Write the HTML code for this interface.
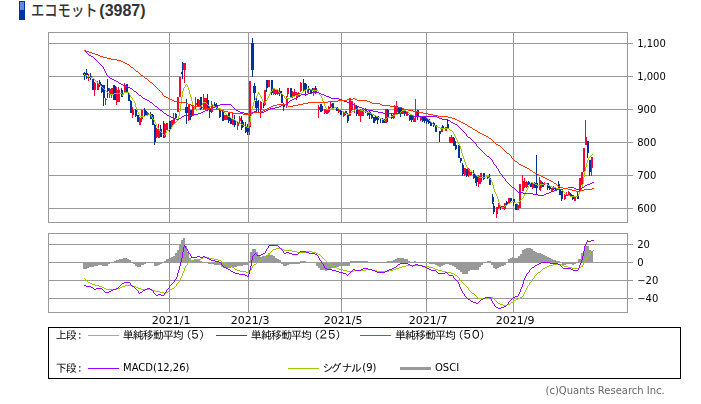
<!DOCTYPE html>
<html lang="ja"><head><meta charset="utf-8"><title>エコモット(3987)</title>
<style>
html,body{margin:0;padding:0;background:#fff;}
body{width:701px;height:404px;overflow:hidden;position:relative;}
svg{position:absolute;left:0;top:24px;display:block;will-change:transform;}
#ttl{position:absolute;left:0;top:0;width:701px;height:24px;overflow:hidden;}
#ttl svg{top:0;will-change:auto;}
.ax{font-family:"DejaVu Sans","Liberation Sans",sans-serif;font-size:10px;fill:#000;}
.lg{font-family:"DejaVu Sans","IPAGothic","Noto Sans CJK JP",sans-serif;font-size:10px;fill:#000;}
.jp{font-family:"IPAGothic","Noto Sans CJK JP",sans-serif;font-size:11px;fill:#000;}
.jd{font-family:"IPAGothic","Noto Sans CJK JP",sans-serif;font-size:12px;fill:#000;}
.cp{font-family:"DejaVu Sans","Liberation Sans",sans-serif;font-size:10px;fill:#666;}
.tj{font-family:"Liberation Sans","Noto Sans CJK JP",sans-serif;font-size:15.5px;font-weight:500;fill:#333;}
.tn{font-family:"Liberation Sans",sans-serif;font-size:16px;font-weight:bold;fill:#333;}
.g{stroke:#999999;stroke-width:1;fill:none;shape-rendering:crispEdges;}
.l{fill:none;stroke-width:1;stroke-linejoin:round;stroke-linecap:butt;shape-rendering:crispEdges;}
</style></head><body>
<div id="ttl"><svg width="701" height="24" viewBox="0 0 701 24">
<rect x="19" y="1" width="6" height="19" fill="#0033aa"/>
<rect x="20" y="2" width="4" height="8" fill="#6688dd"/>
<text class="tj" x="31" y="15.8" textLength="66.5" lengthAdjust="spacingAndGlyphs">エコモット</text>
<text class="tn" x="99.3" y="16">(3987)</text>
</svg></div>
<svg width="701" height="380" viewBox="0 24 701 380">
<rect x="0" y="24" width="701" height="380" fill="#ffffff"/>
<g class="g">
<line x1="48" y1="43.5" x2="633" y2="43.5"/>
<line x1="48" y1="76.5" x2="633" y2="76.5"/>
<line x1="48" y1="109.5" x2="633" y2="109.5"/>
<line x1="48" y1="142.5" x2="633" y2="142.5"/>
<line x1="48" y1="175.5" x2="633" y2="175.5"/>
<line x1="48" y1="208.5" x2="633" y2="208.5"/>
<line x1="169.5" y1="32" x2="169.5" y2="223"/>
<line x1="169.5" y1="233" x2="169.5" y2="313"/>
<line x1="248.5" y1="32" x2="248.5" y2="223"/>
<line x1="248.5" y1="233" x2="248.5" y2="313"/>
<line x1="341.5" y1="32" x2="341.5" y2="223"/>
<line x1="341.5" y1="233" x2="341.5" y2="313"/>
<line x1="426.5" y1="32" x2="426.5" y2="223"/>
<line x1="426.5" y1="233" x2="426.5" y2="313"/>
<line x1="513.5" y1="32" x2="513.5" y2="223"/>
<line x1="513.5" y1="233" x2="513.5" y2="313"/>
<line x1="48" y1="244.5" x2="633" y2="244.5"/>
<line x1="48" y1="262.5" x2="633" y2="262.5"/>
<line x1="48" y1="280.5" x2="633" y2="280.5"/>
<line x1="48" y1="298.5" x2="633" y2="298.5"/>
<rect x="48.5" y="32.5" width="579" height="190"/>
<rect x="48.5" y="233.5" width="579" height="79"/>
</g>
<g shape-rendering="crispEdges">
<rect x="84" y="71.5" width="1" height="8.5" fill="#003399"/>
<rect x="83" y="73" width="3" height="2" fill="#003399"/>
<rect x="86" y="69" width="1" height="10" fill="#003399"/>
<rect x="85" y="73" width="3" height="2" fill="#003399"/>
<rect x="88" y="74" width="1" height="7" fill="#ff0033"/>
<rect x="87" y="76" width="3" height="1.5" fill="#ff0033"/>
<rect x="90" y="73" width="1" height="7" fill="#003399"/>
<rect x="89" y="76" width="3" height="2" fill="#003399"/>
<rect x="92" y="79" width="1" height="11" fill="#003399"/>
<rect x="92" y="79" width="2" height="11" fill="#003399"/>
<rect x="94" y="82" width="1" height="14" fill="#ff0033"/>
<rect x="94" y="82.5" width="2" height="7.5" fill="#ff0033"/>
<rect x="97" y="81" width="1" height="9" fill="#ff0033"/>
<rect x="97" y="83" width="2" height="6.5" fill="#ff0033"/>
<rect x="99" y="80" width="1" height="7" fill="#003399"/>
<rect x="99" y="82" width="2" height="4" fill="#003399"/>
<rect x="101" y="84" width="1" height="9" fill="#003399"/>
<rect x="101" y="85" width="2" height="7" fill="#003399"/>
<rect x="103" y="85" width="1" height="20.5" fill="#003399"/>
<rect x="103" y="85" width="2" height="13" fill="#003399"/>
<rect x="105" y="98" width="1" height="7" fill="#ff0033"/>
<rect x="105" y="98.5" width="2" height="1.5" fill="#ff0033"/>
<rect x="107" y="79" width="1" height="19" fill="#003399"/>
<rect x="107" y="88" width="2" height="3" fill="#003399"/>
<rect x="109" y="88" width="1" height="10" fill="#ff0033"/>
<rect x="109" y="89" width="2" height="5" fill="#ff0033"/>
<rect x="111" y="88" width="1" height="9.5" fill="#ff0033"/>
<rect x="111" y="88" width="2" height="5.5" fill="#ff0033"/>
<rect x="113" y="85" width="1" height="15" fill="#003399"/>
<rect x="113" y="85" width="2" height="15" fill="#003399"/>
<rect x="115" y="86" width="1" height="14" fill="#003399"/>
<rect x="115" y="87" width="2" height="12" fill="#003399"/>
<rect x="116" y="87" width="1" height="17.5" fill="#ff0033"/>
<rect x="116" y="90" width="2" height="12" fill="#ff0033"/>
<rect x="118" y="87" width="1" height="15" fill="#ff0033"/>
<rect x="118" y="90" width="2" height="12" fill="#ff0033"/>
<rect x="121" y="88" width="1" height="9" fill="#003399"/>
<rect x="121" y="90" width="2" height="6.5" fill="#003399"/>
<rect x="124" y="83" width="1" height="9" fill="#ff0033"/>
<rect x="124" y="85" width="2" height="7" fill="#ff0033"/>
<rect x="126" y="84" width="1" height="9" fill="#003399"/>
<rect x="126" y="84" width="2" height="8.5" fill="#003399"/>
<rect x="128" y="92" width="1" height="8.5" fill="#003399"/>
<rect x="128" y="92.5" width="2" height="8" fill="#003399"/>
<rect x="130" y="100" width="1" height="12.5" fill="#003399"/>
<rect x="130" y="100.5" width="2" height="12" fill="#003399"/>
<rect x="132" y="106.5" width="1" height="11" fill="#ff0033"/>
<rect x="132" y="109.5" width="2" height="5" fill="#ff0033"/>
<rect x="135" y="109" width="1" height="7.5" fill="#003399"/>
<rect x="135" y="109.5" width="2" height="6.5" fill="#003399"/>
<rect x="137" y="114.5" width="1" height="7.5" fill="#003399"/>
<rect x="137" y="115" width="2" height="7" fill="#003399"/>
<rect x="139" y="117" width="1" height="8" fill="#ff0033"/>
<rect x="139" y="117.5" width="2" height="7" fill="#ff0033"/>
<rect x="141" y="109.5" width="1" height="12" fill="#ff0033"/>
<rect x="141" y="109.5" width="2" height="9.5" fill="#ff0033"/>
<rect x="144" y="108" width="1" height="8" fill="#003399"/>
<rect x="144" y="109.5" width="2" height="6" fill="#003399"/>
<rect x="145" y="110" width="1" height="5.5" fill="#003399"/>
<rect x="145" y="110.5" width="2" height="4.5" fill="#003399"/>
<rect x="147" y="112" width="1" height="3.5" fill="#ff0033"/>
<rect x="147" y="112.5" width="2" height="2.5" fill="#ff0033"/>
<rect x="150" y="112" width="1" height="7" fill="#003399"/>
<rect x="150" y="114" width="2" height="4.5" fill="#003399"/>
<rect x="152" y="114" width="1" height="10.5" fill="#003399"/>
<rect x="152" y="114.5" width="2" height="10" fill="#003399"/>
<rect x="154" y="124" width="1" height="21" fill="#003399"/>
<rect x="154" y="124.5" width="2" height="17.5" fill="#003399"/>
<rect x="156" y="128" width="1" height="10" fill="#ff0033"/>
<rect x="156" y="129" width="2" height="8" fill="#ff0033"/>
<rect x="158" y="124" width="1" height="14" fill="#ff0033"/>
<rect x="158" y="129.5" width="2" height="8" fill="#ff0033"/>
<rect x="160" y="125" width="1" height="12" fill="#003399"/>
<rect x="160" y="128.5" width="2" height="8" fill="#003399"/>
<rect x="163" y="121" width="1" height="16.5" fill="#003399"/>
<rect x="163" y="128" width="2" height="9" fill="#003399"/>
<rect x="164" y="123" width="1" height="14.5" fill="#ff0033"/>
<rect x="164" y="123.5" width="2" height="13.5" fill="#ff0033"/>
<rect x="166" y="122.5" width="1" height="7.5" fill="#ff0033"/>
<rect x="166" y="123" width="2" height="6.5" fill="#ff0033"/>
<rect x="169" y="120.5" width="1" height="11.5" fill="#003399"/>
<rect x="169" y="121" width="2" height="8.5" fill="#003399"/>
<rect x="171" y="119.5" width="1" height="7" fill="#ff0033"/>
<rect x="171" y="120" width="2" height="6" fill="#ff0033"/>
<rect x="173" y="113" width="1" height="10.5" fill="#ff0033"/>
<rect x="173" y="118" width="2" height="5" fill="#ff0033"/>
<rect x="175" y="113" width="1" height="5.5" fill="#003399"/>
<rect x="175" y="113.5" width="2" height="4.5" fill="#003399"/>
<rect x="177" y="97" width="1" height="15" fill="#ff0033"/>
<rect x="177" y="97" width="2" height="15" fill="#ff0033"/>
<rect x="179" y="77" width="1" height="20" fill="#ff0033"/>
<rect x="179" y="77" width="2" height="20" fill="#ff0033"/>
<rect x="182" y="62" width="1" height="17" fill="#003399"/>
<rect x="181" y="72" width="2" height="2" fill="#003399"/>
<rect x="184" y="63" width="1" height="20" fill="#ff0033"/>
<rect x="183" y="63" width="3" height="6.5" fill="#ff0033"/>
<rect x="186" y="99" width="1" height="25" fill="#003399"/>
<rect x="185" y="107" width="3" height="6" fill="#003399"/>
<rect x="188" y="104" width="1" height="16.5" fill="#ff0033"/>
<rect x="188" y="104.5" width="2" height="15.5" fill="#ff0033"/>
<rect x="190" y="109.5" width="1" height="10.5" fill="#003399"/>
<rect x="190" y="110" width="2" height="7" fill="#003399"/>
<rect x="192" y="105" width="1" height="11" fill="#ff0033"/>
<rect x="192" y="105.5" width="2" height="10" fill="#ff0033"/>
<rect x="195" y="97" width="1" height="13" fill="#ff0033"/>
<rect x="195" y="103" width="2" height="2" fill="#ff0033"/>
<rect x="197" y="98.5" width="1" height="8" fill="#003399"/>
<rect x="197" y="99" width="2" height="7" fill="#003399"/>
<rect x="198" y="99" width="1" height="7" fill="#ff0033"/>
<rect x="198" y="99.5" width="2" height="6" fill="#ff0033"/>
<rect x="200" y="96.5" width="1" height="13" fill="#003399"/>
<rect x="200" y="97" width="2" height="12" fill="#003399"/>
<rect x="203" y="94" width="1" height="15.5" fill="#ff0033"/>
<rect x="203" y="98" width="2" height="11" fill="#ff0033"/>
<rect x="205" y="97.5" width="1" height="12" fill="#ff0033"/>
<rect x="205" y="98" width="2" height="11" fill="#ff0033"/>
<rect x="207" y="94" width="1" height="16.5" fill="#003399"/>
<rect x="207" y="99.5" width="2" height="10.5" fill="#003399"/>
<rect x="209" y="107" width="1" height="11" fill="#003399"/>
<rect x="209" y="109" width="2" height="3" fill="#003399"/>
<rect x="211" y="101" width="1" height="11.5" fill="#ff0033"/>
<rect x="211" y="104" width="2" height="8" fill="#ff0033"/>
<rect x="214" y="102" width="1" height="6" fill="#003399"/>
<rect x="214" y="104" width="2" height="3" fill="#003399"/>
<rect x="216" y="103" width="1" height="6" fill="#003399"/>
<rect x="216" y="105" width="2" height="3.5" fill="#003399"/>
<rect x="219" y="108" width="1" height="9.5" fill="#003399"/>
<rect x="219" y="110" width="2" height="7" fill="#003399"/>
<rect x="222" y="110.5" width="1" height="10.5" fill="#003399"/>
<rect x="222" y="111" width="2" height="9.5" fill="#003399"/>
<rect x="224" y="114.5" width="1" height="5.5" fill="#ff0033"/>
<rect x="224" y="115" width="2" height="4.5" fill="#ff0033"/>
<rect x="226" y="114.5" width="1" height="5.5" fill="#ff0033"/>
<rect x="226" y="115" width="2" height="4.5" fill="#ff0033"/>
<rect x="228" y="112" width="1" height="11" fill="#003399"/>
<rect x="228" y="113" width="2" height="8" fill="#003399"/>
<rect x="230" y="117.5" width="1" height="6.5" fill="#003399"/>
<rect x="230" y="118" width="2" height="5.5" fill="#003399"/>
<rect x="232" y="113" width="1" height="12" fill="#ff0033"/>
<rect x="232" y="119" width="2" height="5.5" fill="#ff0033"/>
<rect x="234" y="115" width="1" height="12" fill="#003399"/>
<rect x="234" y="120" width="2" height="5" fill="#003399"/>
<rect x="237" y="121.5" width="1" height="8.5" fill="#ff0033"/>
<rect x="237" y="122" width="2" height="4" fill="#ff0033"/>
<rect x="239" y="115.5" width="1" height="7.5" fill="#ff0033"/>
<rect x="239" y="118" width="2" height="3" fill="#ff0033"/>
<rect x="241" y="116" width="1" height="14" fill="#003399"/>
<rect x="241" y="120" width="2" height="4" fill="#003399"/>
<rect x="242" y="121" width="1" height="6.5" fill="#003399"/>
<rect x="242" y="121.5" width="2" height="5.5" fill="#003399"/>
<rect x="245" y="122" width="1" height="11" fill="#003399"/>
<rect x="245" y="126.5" width="2" height="5.5" fill="#003399"/>
<rect x="247" y="124" width="1" height="11" fill="#003399"/>
<rect x="247" y="126.5" width="2" height="5.5" fill="#003399"/>
<rect x="249" y="81" width="1" height="54" fill="#ff0033"/>
<rect x="249" y="81" width="2" height="46" fill="#ff0033"/>
<rect x="252" y="38" width="1" height="39" fill="#003399"/>
<rect x="251" y="43" width="3" height="26.5" fill="#003399"/>
<rect x="254" y="83" width="1" height="17" fill="#003399"/>
<rect x="253" y="86" width="3" height="6.5" fill="#003399"/>
<rect x="256" y="97" width="1" height="14.5" fill="#003399"/>
<rect x="255" y="100.5" width="3" height="7.5" fill="#003399"/>
<rect x="258" y="100" width="1" height="11.5" fill="#003399"/>
<rect x="258" y="101" width="1" height="6" fill="#003399"/>
<rect x="260" y="101" width="1" height="17" fill="#ff0033"/>
<rect x="260" y="101.5" width="2" height="8.5" fill="#ff0033"/>
<rect x="263" y="102" width="1" height="5.5" fill="#003399"/>
<rect x="263" y="103" width="2" height="3" fill="#003399"/>
<rect x="264" y="90" width="1" height="16" fill="#ff0033"/>
<rect x="264" y="90" width="2" height="14.5" fill="#ff0033"/>
<rect x="266" y="80" width="1" height="11.5" fill="#003399"/>
<rect x="266" y="80" width="2" height="8" fill="#003399"/>
<rect x="268" y="80" width="1" height="7" fill="#ff0033"/>
<rect x="268" y="80" width="2" height="6.5" fill="#ff0033"/>
<rect x="271" y="80" width="1" height="14.5" fill="#003399"/>
<rect x="271" y="80" width="2" height="12.5" fill="#003399"/>
<rect x="273" y="88.5" width="1" height="6.5" fill="#ff0033"/>
<rect x="273" y="89" width="2" height="5" fill="#ff0033"/>
<rect x="275" y="89" width="1" height="6" fill="#ff0033"/>
<rect x="275" y="89.5" width="2" height="4" fill="#ff0033"/>
<rect x="277" y="89" width="1" height="6" fill="#ff0033"/>
<rect x="277" y="89.5" width="2" height="4" fill="#ff0033"/>
<rect x="279" y="88" width="1" height="8" fill="#003399"/>
<rect x="279" y="91" width="2" height="2" fill="#003399"/>
<rect x="281" y="91" width="1" height="12" fill="#003399"/>
<rect x="281" y="94" width="2" height="9" fill="#003399"/>
<rect x="283" y="103" width="1" height="8" fill="#003399"/>
<rect x="283" y="104" width="2" height="3" fill="#003399"/>
<rect x="286" y="96" width="1" height="12" fill="#ff0033"/>
<rect x="286" y="99" width="2" height="6" fill="#ff0033"/>
<rect x="287" y="88" width="1" height="9" fill="#ff0033"/>
<rect x="287" y="88" width="2" height="5.5" fill="#ff0033"/>
<rect x="290" y="88" width="1" height="9.5" fill="#003399"/>
<rect x="290" y="88" width="2" height="9" fill="#003399"/>
<rect x="292" y="91" width="1" height="6.5" fill="#ff0033"/>
<rect x="292" y="92" width="2" height="5" fill="#ff0033"/>
<rect x="294" y="89" width="1" height="8" fill="#ff0033"/>
<rect x="294" y="92" width="2" height="4" fill="#ff0033"/>
<rect x="296" y="92" width="1" height="7.5" fill="#ff0033"/>
<rect x="296" y="92.5" width="2" height="4" fill="#ff0033"/>
<rect x="298" y="92" width="1" height="5" fill="#ff0033"/>
<rect x="298" y="92.5" width="2" height="4" fill="#ff0033"/>
<rect x="300" y="82" width="1" height="9.5" fill="#ff0033"/>
<rect x="300" y="82.5" width="2" height="8.5" fill="#ff0033"/>
<rect x="303" y="79" width="1" height="11.5" fill="#003399"/>
<rect x="303" y="83" width="2" height="7" fill="#003399"/>
<rect x="305" y="83" width="1" height="13" fill="#003399"/>
<rect x="305" y="84" width="2" height="6" fill="#003399"/>
<rect x="307" y="88.5" width="1" height="4.5" fill="#ff0033"/>
<rect x="307" y="89" width="2" height="3.5" fill="#ff0033"/>
<rect x="308" y="86" width="1" height="5" fill="#003399"/>
<rect x="308" y="88" width="2" height="2" fill="#003399"/>
<rect x="310" y="88.5" width="1" height="5" fill="#003399"/>
<rect x="310" y="89" width="2" height="4" fill="#003399"/>
<rect x="312" y="87.5" width="1" height="3.5" fill="#003399"/>
<rect x="312" y="88" width="2" height="2.5" fill="#003399"/>
<rect x="313" y="87.5" width="1" height="8.5" fill="#ff0033"/>
<rect x="313" y="88" width="2" height="3.5" fill="#ff0033"/>
<rect x="315" y="86" width="1" height="7.5" fill="#003399"/>
<rect x="315" y="87.5" width="2" height="5.5" fill="#003399"/>
<rect x="318" y="105" width="1" height="13" fill="#ff0033"/>
<rect x="318" y="107" width="2" height="3" fill="#ff0033"/>
<rect x="320" y="104" width="1" height="7.5" fill="#003399"/>
<rect x="320" y="105.5" width="2" height="5.5" fill="#003399"/>
<rect x="321" y="104" width="1" height="7.5" fill="#003399"/>
<rect x="321" y="105.5" width="2" height="5.5" fill="#003399"/>
<rect x="324" y="108.5" width="1" height="5.5" fill="#ff0033"/>
<rect x="324" y="109" width="2" height="4" fill="#ff0033"/>
<rect x="326" y="109.5" width="1" height="4.5" fill="#ff0033"/>
<rect x="326" y="110" width="2" height="3.5" fill="#ff0033"/>
<rect x="328" y="106" width="1" height="6.5" fill="#ff0033"/>
<rect x="328" y="106.5" width="2" height="5.5" fill="#ff0033"/>
<rect x="330" y="102" width="1" height="6" fill="#ff0033"/>
<rect x="330" y="104" width="2" height="3" fill="#ff0033"/>
<rect x="332" y="102.5" width="1" height="6" fill="#003399"/>
<rect x="332" y="103" width="2" height="5" fill="#003399"/>
<rect x="336" y="106.5" width="1" height="4.5" fill="#003399"/>
<rect x="336" y="107" width="2" height="3.5" fill="#003399"/>
<rect x="338" y="108.5" width="1" height="4" fill="#ff0033"/>
<rect x="338" y="109" width="2" height="3" fill="#ff0033"/>
<rect x="340" y="109" width="1" height="6" fill="#003399"/>
<rect x="340" y="109.5" width="2" height="5" fill="#003399"/>
<rect x="343" y="111.5" width="1" height="5" fill="#ff0033"/>
<rect x="343" y="112" width="2" height="4" fill="#ff0033"/>
<rect x="345" y="110.5" width="1" height="4" fill="#003399"/>
<rect x="345" y="111" width="2" height="3" fill="#003399"/>
<rect x="347" y="113" width="1" height="10" fill="#003399"/>
<rect x="347" y="114.5" width="2" height="6.5" fill="#003399"/>
<rect x="349" y="98" width="1" height="18" fill="#ff0033"/>
<rect x="349" y="98" width="2" height="18" fill="#ff0033"/>
<rect x="351" y="100.5" width="1" height="10" fill="#ff0033"/>
<rect x="351" y="101" width="2" height="9" fill="#ff0033"/>
<rect x="354" y="103" width="1" height="10" fill="#ff0033"/>
<rect x="354" y="106" width="2" height="4" fill="#ff0033"/>
<rect x="356" y="105" width="1" height="11" fill="#003399"/>
<rect x="356" y="105.5" width="2" height="8.5" fill="#003399"/>
<rect x="358" y="109" width="1" height="7" fill="#ff0033"/>
<rect x="358" y="109.5" width="2" height="6" fill="#ff0033"/>
<rect x="360" y="109" width="1" height="13" fill="#ff0033"/>
<rect x="360" y="109.5" width="2" height="6" fill="#ff0033"/>
<rect x="362" y="109" width="1" height="7" fill="#ff0033"/>
<rect x="362" y="109.5" width="2" height="6" fill="#ff0033"/>
<rect x="365" y="108" width="1" height="4.5" fill="#003399"/>
<rect x="365" y="108.5" width="2" height="3.5" fill="#003399"/>
<rect x="367" y="111" width="1" height="4.5" fill="#003399"/>
<rect x="367" y="111.5" width="2" height="3.5" fill="#003399"/>
<rect x="369" y="111" width="1" height="8" fill="#003399"/>
<rect x="369" y="111.5" width="2" height="3.5" fill="#003399"/>
<rect x="371" y="113" width="1" height="5.5" fill="#003399"/>
<rect x="371" y="113.5" width="2" height="4.5" fill="#003399"/>
<rect x="373" y="116.5" width="1" height="6.5" fill="#003399"/>
<rect x="373" y="117" width="2" height="6" fill="#003399"/>
<rect x="375" y="115.5" width="1" height="5" fill="#003399"/>
<rect x="375" y="116" width="2" height="4" fill="#003399"/>
<rect x="377" y="115.5" width="1" height="8" fill="#003399"/>
<rect x="377" y="116" width="2" height="4" fill="#003399"/>
<rect x="380" y="117.5" width="1" height="5.5" fill="#003399"/>
<rect x="380" y="118.5" width="1" height="3.5" fill="#003399"/>
<rect x="382" y="117.5" width="1" height="5.5" fill="#003399"/>
<rect x="382" y="118.5" width="1" height="3.5" fill="#003399"/>
<rect x="383" y="118.5" width="1" height="4.5" fill="#003399"/>
<rect x="383" y="119" width="2" height="3.5" fill="#003399"/>
<rect x="385" y="108.5" width="1" height="14.5" fill="#ff0033"/>
<rect x="385" y="109" width="2" height="13.5" fill="#ff0033"/>
<rect x="387" y="109" width="1" height="13" fill="#003399"/>
<rect x="387" y="109.5" width="2" height="8.5" fill="#003399"/>
<rect x="391" y="114" width="1" height="4.5" fill="#003399"/>
<rect x="391" y="114.5" width="2" height="3.5" fill="#003399"/>
<rect x="393" y="113" width="1" height="5.5" fill="#ff0033"/>
<rect x="393" y="113.5" width="2" height="4.5" fill="#ff0033"/>
<rect x="394" y="105" width="1" height="9.5" fill="#ff0033"/>
<rect x="394" y="105.5" width="2" height="8.5" fill="#ff0033"/>
<rect x="396" y="101" width="1" height="12" fill="#ff0033"/>
<rect x="396" y="106" width="2" height="6" fill="#ff0033"/>
<rect x="398" y="107" width="1" height="6" fill="#003399"/>
<rect x="398" y="107.5" width="2" height="5" fill="#003399"/>
<rect x="400" y="107" width="1" height="10" fill="#003399"/>
<rect x="400" y="107.5" width="2" height="5" fill="#003399"/>
<rect x="402" y="108" width="1" height="5.5" fill="#ff0033"/>
<rect x="402" y="108.5" width="2" height="4.5" fill="#ff0033"/>
<rect x="404" y="108.5" width="1" height="7.5" fill="#003399"/>
<rect x="404" y="110" width="2" height="3.5" fill="#003399"/>
<rect x="406" y="111.5" width="1" height="4.5" fill="#ff0033"/>
<rect x="406" y="112" width="2" height="3.5" fill="#ff0033"/>
<rect x="409" y="115" width="1" height="5.5" fill="#003399"/>
<rect x="409" y="115.5" width="2" height="4" fill="#003399"/>
<rect x="411" y="115" width="1" height="7" fill="#003399"/>
<rect x="411" y="115.5" width="2" height="4" fill="#003399"/>
<rect x="413" y="117" width="1" height="5" fill="#ff0033"/>
<rect x="413" y="117.5" width="2" height="4" fill="#ff0033"/>
<rect x="415" y="99" width="1" height="22.5" fill="#ff0033"/>
<rect x="415" y="111" width="2" height="6" fill="#ff0033"/>
<rect x="417" y="109.5" width="1" height="10.5" fill="#003399"/>
<rect x="417" y="110" width="2" height="6.5" fill="#003399"/>
<rect x="420" y="115.5" width="1" height="5" fill="#ff0033"/>
<rect x="420" y="116" width="2" height="4" fill="#ff0033"/>
<rect x="422" y="116.5" width="1" height="5.5" fill="#003399"/>
<rect x="422" y="117" width="2" height="3.5" fill="#003399"/>
<rect x="424" y="116.5" width="1" height="6" fill="#003399"/>
<rect x="424" y="117" width="2" height="4" fill="#003399"/>
<rect x="426" y="117" width="1" height="7" fill="#003399"/>
<rect x="426" y="118" width="2" height="4" fill="#003399"/>
<rect x="428" y="118.5" width="1" height="5.5" fill="#003399"/>
<rect x="428" y="119" width="2" height="4" fill="#003399"/>
<rect x="430" y="121.5" width="1" height="4.5" fill="#003399"/>
<rect x="430" y="122" width="2" height="3.5" fill="#003399"/>
<rect x="433" y="122" width="1" height="4.5" fill="#003399"/>
<rect x="433" y="122.5" width="2" height="3.5" fill="#003399"/>
<rect x="435" y="124.5" width="1" height="7.5" fill="#003399"/>
<rect x="435" y="125" width="2" height="6.5" fill="#003399"/>
<rect x="439" y="130.5" width="1" height="11.5" fill="#003399"/>
<rect x="439" y="131" width="2" height="2.5" fill="#003399"/>
<rect x="441" y="127" width="1" height="5" fill="#ff0033"/>
<rect x="441" y="127.5" width="2" height="4" fill="#ff0033"/>
<rect x="442" y="125" width="1" height="3.5" fill="#003399"/>
<rect x="442" y="125.5" width="2" height="2.5" fill="#003399"/>
<rect x="445" y="126.5" width="1" height="4.5" fill="#ff0033"/>
<rect x="445" y="127" width="2" height="3.5" fill="#ff0033"/>
<rect x="447" y="119.5" width="1" height="8.5" fill="#003399"/>
<rect x="447" y="124" width="2" height="3.5" fill="#003399"/>
<rect x="449" y="136.5" width="1" height="6.5" fill="#ff0033"/>
<rect x="449" y="137" width="2" height="5.5" fill="#ff0033"/>
<rect x="451" y="135" width="1" height="8" fill="#ff0033"/>
<rect x="451" y="137" width="2" height="5.5" fill="#ff0033"/>
<rect x="453" y="137" width="1" height="9" fill="#003399"/>
<rect x="453" y="137.5" width="2" height="8" fill="#003399"/>
<rect x="455" y="141" width="1" height="8.5" fill="#003399"/>
<rect x="455" y="145" width="2" height="4" fill="#003399"/>
<rect x="458" y="145" width="1" height="13" fill="#003399"/>
<rect x="458" y="145.5" width="2" height="12.5" fill="#003399"/>
<rect x="460" y="157.5" width="1" height="5.5" fill="#003399"/>
<rect x="460" y="158" width="2" height="3" fill="#003399"/>
<rect x="462" y="163" width="1" height="13" fill="#003399"/>
<rect x="462" y="165" width="2" height="9" fill="#003399"/>
<rect x="464" y="167.5" width="1" height="8" fill="#ff0033"/>
<rect x="464" y="168" width="2" height="7" fill="#ff0033"/>
<rect x="466" y="168.5" width="1" height="8" fill="#003399"/>
<rect x="466" y="169" width="2" height="7" fill="#003399"/>
<rect x="468" y="168" width="1" height="9" fill="#ff0033"/>
<rect x="468" y="168.5" width="2" height="6.5" fill="#ff0033"/>
<rect x="470" y="171.5" width="1" height="4" fill="#ff0033"/>
<rect x="470" y="172" width="2" height="3" fill="#ff0033"/>
<rect x="473" y="170" width="1" height="8.5" fill="#003399"/>
<rect x="473" y="173" width="2" height="5" fill="#003399"/>
<rect x="475" y="175" width="1" height="7.5" fill="#003399"/>
<rect x="475" y="175.5" width="2" height="6.5" fill="#003399"/>
<rect x="476" y="175" width="1" height="11" fill="#003399"/>
<rect x="476" y="175.5" width="2" height="6.5" fill="#003399"/>
<rect x="478" y="175" width="1" height="12" fill="#ff0033"/>
<rect x="478" y="175.5" width="2" height="8.5" fill="#ff0033"/>
<rect x="480" y="173" width="1" height="11" fill="#ff0033"/>
<rect x="480" y="173" width="2" height="9" fill="#ff0033"/>
<rect x="483" y="172.5" width="1" height="7" fill="#003399"/>
<rect x="483" y="173" width="2" height="6" fill="#003399"/>
<rect x="487" y="175.5" width="1" height="3" fill="#003399"/>
<rect x="487" y="176" width="2" height="2" fill="#003399"/>
<rect x="489" y="174" width="1" height="11" fill="#003399"/>
<rect x="489" y="178" width="2" height="7" fill="#003399"/>
<rect x="492" y="194" width="1" height="10" fill="#003399"/>
<rect x="492" y="197" width="2" height="5" fill="#003399"/>
<rect x="493" y="202.5" width="1" height="11.5" fill="#003399"/>
<rect x="493" y="206" width="2" height="6" fill="#003399"/>
<rect x="496" y="206.5" width="1" height="11.5" fill="#ff0033"/>
<rect x="496" y="207" width="2" height="7" fill="#ff0033"/>
<rect x="498" y="203" width="1" height="5.5" fill="#ff0033"/>
<rect x="498" y="203.5" width="2" height="4.5" fill="#ff0033"/>
<rect x="500" y="205" width="1" height="5" fill="#003399"/>
<rect x="500" y="205.5" width="2" height="3.5" fill="#003399"/>
<rect x="502" y="205.5" width="1" height="3.5" fill="#ff0033"/>
<rect x="502" y="206" width="2" height="2.5" fill="#ff0033"/>
<rect x="504" y="202.5" width="1" height="7.5" fill="#ff0033"/>
<rect x="504" y="203" width="2" height="5.5" fill="#ff0033"/>
<rect x="506" y="201" width="1" height="4" fill="#003399"/>
<rect x="506" y="201.5" width="2" height="3" fill="#003399"/>
<rect x="508" y="197.5" width="1" height="6" fill="#ff0033"/>
<rect x="508" y="198" width="2" height="5" fill="#ff0033"/>
<rect x="510" y="197.5" width="1" height="4" fill="#003399"/>
<rect x="510" y="198" width="2" height="3" fill="#003399"/>
<rect x="513" y="198.5" width="1" height="7.5" fill="#003399"/>
<rect x="513" y="199" width="2" height="4" fill="#003399"/>
<rect x="515" y="203.5" width="1" height="6.5" fill="#003399"/>
<rect x="515" y="204" width="2" height="5.5" fill="#003399"/>
<rect x="517" y="204" width="1" height="6" fill="#ff0033"/>
<rect x="517" y="204.5" width="2" height="5" fill="#ff0033"/>
<rect x="519" y="184" width="1" height="24" fill="#ff0033"/>
<rect x="519" y="184" width="2" height="24" fill="#ff0033"/>
<rect x="522" y="175" width="1" height="16" fill="#ff0033"/>
<rect x="522" y="181" width="2" height="10" fill="#ff0033"/>
<rect x="524" y="178" width="1" height="9.5" fill="#ff0033"/>
<rect x="524" y="181.5" width="2" height="5.5" fill="#ff0033"/>
<rect x="526" y="181" width="1" height="6.5" fill="#ff0033"/>
<rect x="526" y="181.5" width="2" height="5.5" fill="#ff0033"/>
<rect x="528" y="181" width="1" height="4" fill="#003399"/>
<rect x="528" y="181.5" width="2" height="3" fill="#003399"/>
<rect x="530" y="182.5" width="1" height="4.5" fill="#003399"/>
<rect x="530" y="183" width="2" height="3.5" fill="#003399"/>
<rect x="532" y="183" width="1" height="5.5" fill="#ff0033"/>
<rect x="532" y="183.5" width="2" height="4.5" fill="#ff0033"/>
<rect x="534" y="182" width="1" height="6" fill="#003399"/>
<rect x="534" y="182.5" width="2" height="5" fill="#003399"/>
<rect x="536" y="155" width="1" height="39.5" fill="#003399"/>
<rect x="536" y="182.5" width="2" height="5" fill="#003399"/>
<rect x="539" y="177" width="1" height="12.5" fill="#ff0033"/>
<rect x="539" y="180.5" width="2" height="7.5" fill="#ff0033"/>
<rect x="540" y="180" width="1" height="11" fill="#ff0033"/>
<rect x="540" y="180.5" width="2" height="7.5" fill="#ff0033"/>
<rect x="542" y="182" width="1" height="5" fill="#003399"/>
<rect x="542" y="182.5" width="2" height="4" fill="#003399"/>
<rect x="544" y="182" width="1" height="2.5" fill="#ff0033"/>
<rect x="544" y="182.5" width="2" height="1.5" fill="#ff0033"/>
<rect x="547" y="182.5" width="1" height="7" fill="#003399"/>
<rect x="547" y="183" width="2" height="5" fill="#003399"/>
<rect x="549" y="186" width="1" height="3.5" fill="#003399"/>
<rect x="549" y="186.5" width="2" height="2.5" fill="#003399"/>
<rect x="551" y="187.5" width="1" height="3.5" fill="#ff0033"/>
<rect x="551" y="188" width="2" height="2.5" fill="#ff0033"/>
<rect x="553" y="185.5" width="1" height="4" fill="#003399"/>
<rect x="553" y="187" width="2" height="2" fill="#003399"/>
<rect x="555" y="187" width="1" height="4" fill="#003399"/>
<rect x="555" y="187.5" width="2" height="3" fill="#003399"/>
<rect x="558" y="181" width="1" height="8" fill="#003399"/>
<rect x="558" y="184" width="2" height="4.5" fill="#003399"/>
<rect x="559" y="189" width="1" height="6" fill="#003399"/>
<rect x="559" y="189.5" width="2" height="5" fill="#003399"/>
<rect x="561" y="190.5" width="1" height="10.5" fill="#003399"/>
<rect x="561" y="191" width="2" height="8" fill="#003399"/>
<rect x="564" y="194" width="1" height="5.5" fill="#ff0033"/>
<rect x="564" y="194.5" width="2" height="4.5" fill="#ff0033"/>
<rect x="566" y="192" width="1" height="4" fill="#ff0033"/>
<rect x="566" y="194" width="2" height="1.5" fill="#ff0033"/>
<rect x="568" y="191" width="1" height="4.5" fill="#ff0033"/>
<rect x="568" y="191.5" width="2" height="3.5" fill="#ff0033"/>
<rect x="570" y="193" width="1" height="3.5" fill="#003399"/>
<rect x="570" y="193.5" width="2" height="2.5" fill="#003399"/>
<rect x="572" y="194.5" width="1" height="5" fill="#003399"/>
<rect x="572" y="195" width="2" height="4" fill="#003399"/>
<rect x="574" y="196.5" width="1" height="4.5" fill="#ff0033"/>
<rect x="574" y="197" width="2" height="3.5" fill="#ff0033"/>
<rect x="577" y="192" width="1" height="7" fill="#003399"/>
<rect x="577" y="194.5" width="2" height="4" fill="#003399"/>
<rect x="579" y="178" width="1" height="14" fill="#ff0033"/>
<rect x="579" y="178" width="2" height="13.5" fill="#ff0033"/>
<rect x="581" y="172" width="1" height="13" fill="#ff0033"/>
<rect x="581" y="172" width="2" height="13" fill="#ff0033"/>
<rect x="583" y="148" width="1" height="24" fill="#ff0033"/>
<rect x="583" y="148" width="2" height="24" fill="#ff0033"/>
<rect x="585" y="120" width="1" height="25" fill="#ff0033"/>
<rect x="585" y="137" width="2" height="8" fill="#ff0033"/>
<rect x="587" y="141" width="1" height="17" fill="#003399"/>
<rect x="587" y="141" width="2" height="12" fill="#003399"/>
<rect x="589" y="160" width="1" height="15.5" fill="#003399"/>
<rect x="589" y="160" width="2" height="12" fill="#003399"/>
<rect x="591" y="157" width="1" height="18.5" fill="#ff0033"/>
<rect x="591" y="157" width="2" height="11" fill="#ff0033"/>
</g>
<path fill="#99cc00" shape-rendering="crispEdges" d="M84 74h1v1h-1zM85 75h2v1h-2zM87 76h3v1h-3zM90 77h3v1h-3zM93 78h1v1h-1zM94 79h1v1h-1zM95 80h1v1h-1zM96 81h1v1h-1zM97 82h1v1h-1zM98 83h1v1h-1zM99 84h1v1h-1zM186 84h1v1h-1zM100 85h1v1h-1zM185 85h1v1h-1zM187 85h1v1h-1zM101 86h1v1h-1zM185 86h1v1h-1zM187 86h1v1h-1zM102 87h1v1h-1zM184 87h1v1h-1zM188 87h1v1h-1zM103 88h1v1h-1zM183 88h1v1h-1zM188 88h1v1h-1zM273 88h2v1h-2zM308 88h2v1h-2zM104 89h1v1h-1zM183 89h1v1h-1zM188 89h1v1h-1zM272 89h1v1h-1zM275 89h3v1h-3zM306 89h2v1h-2zM310 89h2v1h-2zM105 90h1v1h-1zM183 90h1v1h-1zM189 90h1v1h-1zM272 90h1v1h-1zM278 90h1v1h-1zM304 90h2v1h-2zM312 90h6v1h-6zM106 91h1v1h-1zM182 91h1v1h-1zM189 91h1v1h-1zM271 91h1v1h-1zM278 91h1v1h-1zM303 91h1v1h-1zM318 91h1v1h-1zM107 92h1v1h-1zM124 92h5v1h-5zM182 92h1v1h-1zM189 92h1v1h-1zM258 92h1v1h-1zM270 92h1v1h-1zM279 92h1v1h-1zM302 92h1v1h-1zM318 92h1v1h-1zM108 93h2v1h-2zM114 93h8v1h-8zM123 93h1v1h-1zM129 93h1v1h-1zM182 93h1v1h-1zM189 93h1v1h-1zM258 93h2v1h-2zM270 93h1v1h-1zM280 93h2v1h-2zM300 93h2v1h-2zM319 93h1v1h-1zM110 94h4v1h-4zM122 94h2v1h-2zM129 94h1v1h-1zM182 94h1v1h-1zM190 94h1v1h-1zM257 94h1v1h-1zM259 94h1v1h-1zM269 94h1v1h-1zM282 94h1v1h-1zM298 94h2v1h-2zM319 94h1v1h-1zM122 95h1v1h-1zM130 95h1v1h-1zM182 95h1v1h-1zM190 95h1v1h-1zM257 95h1v1h-1zM260 95h1v1h-1zM269 95h1v1h-1zM283 95h1v1h-1zM295 95h3v1h-3zM320 95h1v1h-1zM130 96h1v1h-1zM182 96h1v1h-1zM190 96h1v1h-1zM256 96h1v1h-1zM260 96h1v1h-1zM268 96h1v1h-1zM284 96h1v1h-1zM292 96h3v1h-3zM321 96h1v1h-1zM131 97h1v1h-1zM181 97h1v1h-1zM191 97h1v1h-1zM256 97h1v1h-1zM261 97h1v1h-1zM268 97h1v1h-1zM284 97h1v1h-1zM290 97h2v1h-2zM321 97h1v1h-1zM132 98h1v1h-1zM181 98h1v1h-1zM191 98h1v1h-1zM255 98h1v1h-1zM261 98h1v1h-1zM267 98h1v1h-1zM285 98h5v1h-5zM322 98h1v1h-1zM132 99h1v1h-1zM181 99h1v1h-1zM191 99h1v1h-1zM255 99h1v1h-1zM262 99h1v1h-1zM267 99h1v1h-1zM322 99h1v1h-1zM133 100h1v1h-1zM181 100h1v1h-1zM191 100h1v1h-1zM254 100h1v1h-1zM262 100h1v1h-1zM266 100h1v1h-1zM322 100h1v1h-1zM134 101h1v1h-1zM181 101h1v1h-1zM192 101h1v1h-1zM254 101h1v1h-1zM263 101h1v1h-1zM265 101h1v1h-1zM323 101h1v1h-1zM134 102h1v1h-1zM181 102h1v1h-1zM192 102h1v1h-1zM203 102h3v1h-3zM253 102h1v1h-1zM263 102h1v1h-1zM265 102h1v1h-1zM323 102h1v1h-1zM135 103h1v1h-1zM181 103h1v1h-1zM192 103h1v1h-1zM202 103h1v1h-1zM206 103h1v1h-1zM253 103h1v1h-1zM264 103h1v1h-1zM324 103h1v1h-1zM135 104h1v1h-1zM180 104h1v1h-1zM192 104h1v1h-1zM202 104h1v1h-1zM207 104h1v1h-1zM212 104h1v1h-1zM253 104h1v1h-1zM324 104h1v1h-1zM135 105h1v1h-1zM180 105h1v1h-1zM193 105h1v1h-1zM201 105h1v1h-1zM208 105h1v1h-1zM211 105h1v1h-1zM213 105h1v1h-1zM253 105h1v1h-1zM324 105h1v1h-1zM135 106h1v1h-1zM180 106h1v1h-1zM193 106h1v1h-1zM200 106h1v1h-1zM209 106h2v1h-2zM214 106h1v1h-1zM252 106h1v1h-1zM325 106h1v1h-1zM136 107h1v1h-1zM180 107h1v1h-1zM194 107h1v1h-1zM200 107h1v1h-1zM215 107h2v1h-2zM252 107h1v1h-1zM325 107h1v1h-1zM334 107h3v1h-3zM136 108h1v1h-1zM180 108h1v1h-1zM194 108h1v1h-1zM199 108h1v1h-1zM217 108h4v1h-4zM252 108h1v1h-1zM326 108h1v1h-1zM331 108h3v1h-3zM337 108h2v1h-2zM357 108h1v1h-1zM136 109h1v1h-1zM180 109h1v1h-1zM195 109h1v1h-1zM197 109h2v1h-2zM221 109h1v1h-1zM252 109h1v1h-1zM326 109h5v1h-5zM339 109h2v1h-2zM355 109h2v1h-2zM358 109h2v1h-2zM137 110h1v1h-1zM180 110h1v1h-1zM196 110h1v1h-1zM222 110h1v1h-1zM251 110h1v1h-1zM341 110h1v1h-1zM354 110h1v1h-1zM360 110h3v1h-3zM402 110h4v1h-4zM137 111h1v1h-1zM179 111h1v1h-1zM223 111h1v1h-1zM251 111h1v1h-1zM342 111h2v1h-2zM352 111h2v1h-2zM363 111h4v1h-4zM401 111h1v1h-1zM406 111h2v1h-2zM138 112h1v1h-1zM179 112h1v1h-1zM224 112h1v1h-1zM251 112h1v1h-1zM344 112h1v1h-1zM351 112h1v1h-1zM367 112h3v1h-3zM400 112h1v1h-1zM408 112h1v1h-1zM138 113h1v1h-1zM179 113h1v1h-1zM225 113h1v1h-1zM251 113h1v1h-1zM345 113h2v1h-2zM349 113h2v1h-2zM370 113h2v1h-2zM398 113h2v1h-2zM409 113h1v1h-1zM139 114h1v1h-1zM148 114h3v1h-3zM179 114h1v1h-1zM226 114h1v1h-1zM251 114h1v1h-1zM347 114h2v1h-2zM372 114h2v1h-2zM395 114h3v1h-3zM410 114h2v1h-2zM139 115h1v1h-1zM145 115h3v1h-3zM151 115h1v1h-1zM179 115h1v1h-1zM227 115h1v1h-1zM251 115h1v1h-1zM374 115h2v1h-2zM393 115h2v1h-2zM412 115h2v1h-2zM140 116h5v1h-5zM151 116h1v1h-1zM178 116h1v1h-1zM228 116h2v1h-2zM250 116h1v1h-1zM376 116h2v1h-2zM391 116h2v1h-2zM414 116h12v1h-12zM152 117h1v1h-1zM178 117h1v1h-1zM230 117h1v1h-1zM250 117h1v1h-1zM378 117h2v1h-2zM387 117h4v1h-4zM426 117h1v1h-1zM152 118h1v1h-1zM178 118h1v1h-1zM231 118h2v1h-2zM250 118h1v1h-1zM380 118h2v1h-2zM386 118h1v1h-1zM427 118h1v1h-1zM153 119h1v1h-1zM177 119h1v1h-1zM233 119h2v1h-2zM250 119h1v1h-1zM382 119h2v1h-2zM385 119h1v1h-1zM428 119h1v1h-1zM154 120h1v1h-1zM177 120h1v1h-1zM235 120h1v1h-1zM250 120h1v1h-1zM384 120h1v1h-1zM429 120h1v1h-1zM154 121h1v1h-1zM176 121h1v1h-1zM236 121h2v1h-2zM250 121h1v1h-1zM430 121h1v1h-1zM155 122h1v1h-1zM175 122h1v1h-1zM238 122h1v1h-1zM249 122h1v1h-1zM431 122h1v1h-1zM155 123h1v1h-1zM174 123h1v1h-1zM239 123h2v1h-2zM249 123h1v1h-1zM432 123h1v1h-1zM156 124h1v1h-1zM173 124h1v1h-1zM241 124h2v1h-2zM249 124h1v1h-1zM433 124h1v1h-1zM156 125h1v1h-1zM172 125h1v1h-1zM243 125h2v1h-2zM249 125h1v1h-1zM434 125h2v1h-2zM157 126h1v1h-1zM172 126h1v1h-1zM245 126h2v1h-2zM248 126h1v1h-1zM436 126h2v1h-2zM157 127h1v1h-1zM171 127h1v1h-1zM247 127h2v1h-2zM438 127h2v1h-2zM158 128h1v1h-1zM171 128h1v1h-1zM440 128h9v1h-9zM159 129h1v1h-1zM169 129h2v1h-2zM449 129h1v1h-1zM159 130h1v1h-1zM167 130h2v1h-2zM450 130h2v1h-2zM160 131h1v1h-1zM166 131h1v1h-1zM452 131h1v1h-1zM161 132h1v1h-1zM166 132h1v1h-1zM453 132h1v1h-1zM162 133h1v1h-1zM165 133h1v1h-1zM453 133h1v1h-1zM163 134h1v1h-1zM165 134h1v1h-1zM454 134h1v1h-1zM164 135h1v1h-1zM454 135h1v1h-1zM455 136h1v1h-1zM455 137h1v1h-1zM456 138h1v1h-1zM456 139h1v1h-1zM457 140h1v1h-1zM457 141h1v1h-1zM458 142h1v1h-1zM458 143h1v1h-1zM459 144h1v1h-1zM459 145h1v1h-1zM460 146h1v1h-1zM460 147h1v1h-1zM460 148h1v1h-1zM461 149h1v1h-1zM461 150h1v1h-1zM461 151h1v1h-1zM461 152h1v1h-1zM462 153h1v1h-1zM462 154h1v1h-1zM592 154h1v1h-1zM462 155h1v1h-1zM591 155h1v1h-1zM463 156h1v1h-1zM590 156h1v1h-1zM463 157h1v1h-1zM589 157h1v1h-1zM463 158h1v1h-1zM588 158h1v1h-1zM464 159h1v1h-1zM588 159h1v1h-1zM464 160h1v1h-1zM587 160h1v1h-1zM464 161h1v1h-1zM587 161h1v1h-1zM465 162h1v1h-1zM587 162h1v1h-1zM465 163h1v1h-1zM586 163h1v1h-1zM465 164h1v1h-1zM586 164h1v1h-1zM466 165h1v1h-1zM586 165h1v1h-1zM466 166h1v1h-1zM586 166h1v1h-1zM467 167h1v1h-1zM585 167h1v1h-1zM467 168h1v1h-1zM585 168h1v1h-1zM468 169h1v1h-1zM585 169h1v1h-1zM469 170h2v1h-2zM585 170h1v1h-1zM471 171h1v1h-1zM584 171h1v1h-1zM472 172h1v1h-1zM584 172h1v1h-1zM473 173h2v1h-2zM584 173h1v1h-1zM475 174h1v1h-1zM584 174h1v1h-1zM476 175h1v1h-1zM584 175h1v1h-1zM477 176h2v1h-2zM486 176h3v1h-3zM584 176h1v1h-1zM479 177h7v1h-7zM489 177h1v1h-1zM583 177h1v1h-1zM489 178h1v1h-1zM583 178h1v1h-1zM490 179h1v1h-1zM583 179h1v1h-1zM491 180h1v1h-1zM583 180h1v1h-1zM491 181h1v1h-1zM583 181h1v1h-1zM492 182h1v1h-1zM531 182h2v1h-2zM583 182h1v1h-1zM492 183h1v1h-1zM530 183h1v1h-1zM533 183h2v1h-2zM544 183h3v1h-3zM583 183h1v1h-1zM492 184h1v1h-1zM529 184h1v1h-1zM535 184h2v1h-2zM540 184h4v1h-4zM547 184h1v1h-1zM582 184h1v1h-1zM493 185h1v1h-1zM529 185h1v1h-1zM537 185h3v1h-3zM548 185h2v1h-2zM582 185h1v1h-1zM493 186h1v1h-1zM528 186h1v1h-1zM550 186h2v1h-2zM582 186h1v1h-1zM493 187h1v1h-1zM528 187h1v1h-1zM552 187h4v1h-4zM582 187h1v1h-1zM493 188h1v1h-1zM527 188h1v1h-1zM556 188h4v1h-4zM581 188h1v1h-1zM494 189h1v1h-1zM527 189h1v1h-1zM560 189h2v1h-2zM581 189h1v1h-1zM494 190h1v1h-1zM526 190h1v1h-1zM562 190h1v1h-1zM580 190h1v1h-1zM494 191h1v1h-1zM526 191h1v1h-1zM563 191h1v1h-1zM580 191h1v1h-1zM495 192h1v1h-1zM525 192h1v1h-1zM564 192h1v1h-1zM579 192h1v1h-1zM495 193h1v1h-1zM525 193h1v1h-1zM565 193h2v1h-2zM579 193h1v1h-1zM496 194h1v1h-1zM524 194h1v1h-1zM567 194h1v1h-1zM578 194h1v1h-1zM496 195h1v1h-1zM524 195h1v1h-1zM568 195h2v1h-2zM578 195h1v1h-1zM497 196h1v1h-1zM523 196h1v1h-1zM570 196h8v1h-8zM497 197h1v1h-1zM523 197h1v1h-1zM497 198h1v1h-1zM522 198h1v1h-1zM498 199h1v1h-1zM521 199h1v1h-1zM498 200h1v1h-1zM520 200h1v1h-1zM498 201h1v1h-1zM512 201h2v1h-2zM519 201h1v1h-1zM499 202h1v1h-1zM510 202h2v1h-2zM514 202h2v1h-2zM517 202h2v1h-2zM499 203h1v1h-1zM508 203h2v1h-2zM516 203h1v1h-1zM499 204h1v1h-1zM507 204h1v1h-1zM500 205h1v1h-1zM505 205h2v1h-2zM500 206h1v1h-1zM504 206h1v1h-1zM501 207h3v1h-3zM501 208h1v1h-1z"/>
<path fill="#9900ff" shape-rendering="crispEdges" d="M84 50h1v1h-1zM85 51h1v1h-1zM86 52h1v1h-1zM87 53h1v1h-1zM88 54h1v1h-1zM89 55h2v1h-2zM91 56h2v1h-2zM93 57h1v1h-1zM94 58h1v1h-1zM95 59h1v1h-1zM96 60h1v1h-1zM97 61h1v1h-1zM98 62h1v1h-1zM99 63h1v1h-1zM100 64h1v1h-1zM101 65h1v1h-1zM102 66h1v1h-1zM103 67h1v1h-1zM103 68h1v1h-1zM104 69h1v1h-1zM104 70h1v1h-1zM105 71h1v1h-1zM105 72h1v1h-1zM106 73h1v1h-1zM106 74h1v1h-1zM107 75h1v1h-1zM108 76h1v1h-1zM109 77h1v1h-1zM110 78h2v1h-2zM112 79h2v1h-2zM114 80h2v1h-2zM116 81h2v1h-2zM118 82h1v1h-1zM119 83h2v1h-2zM121 84h2v1h-2zM123 85h2v1h-2zM125 86h3v1h-3zM128 87h2v1h-2zM130 88h2v1h-2zM132 89h1v1h-1zM133 90h1v1h-1zM134 91h2v1h-2zM136 92h1v1h-1zM312 92h7v1h-7zM137 93h1v1h-1zM308 93h4v1h-4zM319 93h2v1h-2zM138 94h1v1h-1zM301 94h7v1h-7zM321 94h3v1h-3zM139 95h2v1h-2zM300 95h1v1h-1zM324 95h2v1h-2zM141 96h1v1h-1zM298 96h2v1h-2zM326 96h3v1h-3zM142 97h1v1h-1zM296 97h2v1h-2zM329 97h2v1h-2zM143 98h2v1h-2zM294 98h2v1h-2zM331 98h8v1h-8zM145 99h2v1h-2zM292 99h2v1h-2zM339 99h3v1h-3zM147 100h2v1h-2zM290 100h2v1h-2zM342 100h2v1h-2zM149 101h1v1h-1zM289 101h1v1h-1zM344 101h3v1h-3zM150 102h2v1h-2zM288 102h1v1h-1zM347 102h2v1h-2zM152 103h1v1h-1zM287 103h1v1h-1zM349 103h3v1h-3zM153 104h1v1h-1zM220 104h11v1h-11zM284 104h3v1h-3zM352 104h2v1h-2zM154 105h1v1h-1zM218 105h2v1h-2zM231 105h1v1h-1zM281 105h3v1h-3zM354 105h3v1h-3zM155 106h2v1h-2zM215 106h3v1h-3zM232 106h1v1h-1zM279 106h2v1h-2zM357 106h2v1h-2zM157 107h1v1h-1zM213 107h2v1h-2zM233 107h1v1h-1zM275 107h4v1h-4zM359 107h3v1h-3zM158 108h1v1h-1zM210 108h3v1h-3zM234 108h1v1h-1zM270 108h5v1h-5zM362 108h2v1h-2zM159 109h1v1h-1zM207 109h3v1h-3zM235 109h1v1h-1zM268 109h2v1h-2zM364 109h4v1h-4zM160 110h2v1h-2zM205 110h2v1h-2zM236 110h2v1h-2zM266 110h2v1h-2zM368 110h5v1h-5zM162 111h1v1h-1zM203 111h2v1h-2zM238 111h2v1h-2zM254 111h3v1h-3zM264 111h2v1h-2zM373 111h5v1h-5zM163 112h1v1h-1zM201 112h2v1h-2zM240 112h4v1h-4zM252 112h2v1h-2zM257 112h7v1h-7zM378 112h5v1h-5zM164 113h2v1h-2zM198 113h3v1h-3zM244 113h4v1h-4zM251 113h1v1h-1zM383 113h24v1h-24zM166 114h1v1h-1zM193 114h5v1h-5zM248 114h3v1h-3zM407 114h2v1h-2zM167 115h2v1h-2zM184 115h9v1h-9zM409 115h4v1h-4zM169 116h2v1h-2zM182 116h2v1h-2zM413 116h24v1h-24zM171 117h2v1h-2zM181 117h1v1h-1zM437 117h2v1h-2zM173 118h3v1h-3zM179 118h2v1h-2zM439 118h3v1h-3zM176 119h3v1h-3zM442 119h6v1h-6zM448 120h2v1h-2zM450 121h1v1h-1zM451 122h2v1h-2zM453 123h2v1h-2zM455 124h2v1h-2zM457 125h1v1h-1zM458 126h1v1h-1zM459 127h1v1h-1zM460 128h1v1h-1zM461 129h1v1h-1zM462 130h1v1h-1zM463 131h1v1h-1zM464 132h1v1h-1zM465 133h1v1h-1zM466 134h1v1h-1zM466 135h1v1h-1zM467 136h1v1h-1zM468 137h2v1h-2zM470 138h1v1h-1zM471 139h1v1h-1zM472 140h1v1h-1zM473 141h1v1h-1zM474 142h1v1h-1zM475 143h1v1h-1zM476 144h1v1h-1zM476 145h1v1h-1zM477 146h1v1h-1zM478 147h1v1h-1zM479 148h1v1h-1zM480 149h1v1h-1zM481 150h1v1h-1zM482 151h1v1h-1zM483 152h1v1h-1zM484 153h1v1h-1zM485 154h1v1h-1zM486 155h1v1h-1zM487 156h2v1h-2zM489 157h1v1h-1zM490 158h1v1h-1zM491 159h1v1h-1zM492 160h1v1h-1zM492 161h1v1h-1zM493 162h1v1h-1zM493 163h1v1h-1zM494 164h1v1h-1zM495 165h1v1h-1zM496 166h1v1h-1zM496 167h1v1h-1zM497 168h1v1h-1zM498 169h1v1h-1zM498 170h1v1h-1zM499 171h1v1h-1zM499 172h1v1h-1zM500 173h1v1h-1zM501 174h1v1h-1zM502 175h1v1h-1zM502 176h1v1h-1zM503 177h1v1h-1zM504 178h1v1h-1zM505 179h1v1h-1zM505 180h1v1h-1zM506 181h1v1h-1zM507 182h1v1h-1zM592 182h2v1h-2zM508 183h1v1h-1zM590 183h2v1h-2zM509 184h1v1h-1zM587 184h3v1h-3zM510 185h1v1h-1zM585 185h2v1h-2zM511 186h1v1h-1zM584 186h1v1h-1zM512 187h2v1h-2zM568 187h6v1h-6zM582 187h2v1h-2zM514 188h1v1h-1zM563 188h5v1h-5zM574 188h2v1h-2zM581 188h1v1h-1zM515 189h1v1h-1zM556 189h7v1h-7zM576 189h5v1h-5zM516 190h1v1h-1zM554 190h2v1h-2zM517 191h1v1h-1zM551 191h3v1h-3zM518 192h5v1h-5zM549 192h2v1h-2zM523 193h10v1h-10zM546 193h3v1h-3zM533 194h5v1h-5zM544 194h2v1h-2zM538 195h6v1h-6z"/>
<path fill="#ff3300" shape-rendering="crispEdges" d="M84 50h2v1h-2zM86 51h3v1h-3zM89 52h3v1h-3zM92 53h3v1h-3zM95 54h3v1h-3zM98 55h2v1h-2zM100 56h3v1h-3zM103 57h4v1h-4zM107 58h4v1h-4zM111 59h6v1h-6zM117 60h4v1h-4zM121 61h2v1h-2zM123 62h2v1h-2zM125 63h2v1h-2zM127 64h2v1h-2zM129 65h1v1h-1zM130 66h1v1h-1zM131 67h2v1h-2zM133 68h1v1h-1zM134 69h1v1h-1zM135 70h1v1h-1zM136 71h2v1h-2zM138 72h1v1h-1zM139 73h1v1h-1zM140 74h1v1h-1zM141 75h2v1h-2zM143 76h1v1h-1zM144 77h1v1h-1zM145 78h2v1h-2zM147 79h1v1h-1zM148 80h1v1h-1zM149 81h1v1h-1zM150 82h2v1h-2zM152 83h1v1h-1zM153 84h1v1h-1zM154 85h1v1h-1zM155 86h1v1h-1zM156 87h1v1h-1zM157 88h1v1h-1zM158 89h1v1h-1zM159 90h1v1h-1zM160 91h1v1h-1zM161 92h1v1h-1zM162 93h1v1h-1zM162 94h1v1h-1zM163 95h1v1h-1zM164 96h2v1h-2zM166 97h2v1h-2zM168 98h2v1h-2zM350 98h1v1h-1zM353 98h2v1h-2zM170 99h2v1h-2zM347 99h3v1h-3zM351 99h2v1h-2zM355 99h2v1h-2zM172 100h2v1h-2zM338 100h9v1h-9zM357 100h10v1h-10zM174 101h4v1h-4zM328 101h10v1h-10zM367 101h3v1h-3zM178 102h8v1h-8zM308 102h20v1h-20zM370 102h2v1h-2zM186 103h2v1h-2zM303 103h5v1h-5zM372 103h8v1h-8zM188 104h3v1h-3zM277 104h9v1h-9zM298 104h5v1h-5zM380 104h2v1h-2zM191 105h3v1h-3zM273 105h4v1h-4zM286 105h2v1h-2zM293 105h5v1h-5zM382 105h8v1h-8zM194 106h8v1h-8zM271 106h2v1h-2zM288 106h5v1h-5zM390 106h4v1h-4zM202 107h2v1h-2zM269 107h2v1h-2zM394 107h8v1h-8zM204 108h8v1h-8zM267 108h2v1h-2zM402 108h2v1h-2zM212 109h8v1h-8zM265 109h2v1h-2zM404 109h4v1h-4zM220 110h4v1h-4zM263 110h2v1h-2zM408 110h5v1h-5zM224 111h4v1h-4zM261 111h2v1h-2zM413 111h5v1h-5zM228 112h5v1h-5zM253 112h8v1h-8zM418 112h5v1h-5zM233 113h10v1h-10zM251 113h2v1h-2zM423 113h5v1h-5zM243 114h8v1h-8zM428 114h5v1h-5zM433 115h5v1h-5zM438 116h10v1h-10zM448 117h4v1h-4zM452 118h3v1h-3zM455 119h2v1h-2zM457 120h2v1h-2zM459 121h2v1h-2zM461 122h2v1h-2zM463 123h2v1h-2zM465 124h2v1h-2zM467 125h1v1h-1zM468 126h2v1h-2zM470 127h2v1h-2zM472 128h1v1h-1zM473 129h2v1h-2zM475 130h2v1h-2zM477 131h1v1h-1zM478 132h2v1h-2zM480 133h2v1h-2zM482 134h2v1h-2zM484 135h2v1h-2zM486 136h2v1h-2zM488 137h1v1h-1zM489 138h2v1h-2zM491 139h1v1h-1zM492 140h1v1h-1zM493 141h1v1h-1zM494 142h1v1h-1zM495 143h1v1h-1zM496 144h2v1h-2zM498 145h2v1h-2zM500 146h1v1h-1zM501 147h1v1h-1zM502 148h1v1h-1zM503 149h1v1h-1zM504 150h1v1h-1zM505 151h1v1h-1zM506 152h1v1h-1zM507 153h2v1h-2zM509 154h1v1h-1zM510 155h1v1h-1zM511 156h1v1h-1zM511 157h1v1h-1zM512 158h1v1h-1zM513 159h1v1h-1zM514 160h1v1h-1zM515 161h2v1h-2zM517 162h1v1h-1zM518 163h1v1h-1zM519 164h2v1h-2zM521 165h2v1h-2zM523 166h2v1h-2zM525 167h2v1h-2zM527 168h2v1h-2zM529 169h1v1h-1zM530 170h2v1h-2zM532 171h1v1h-1zM533 172h2v1h-2zM535 173h2v1h-2zM537 174h2v1h-2zM539 175h2v1h-2zM541 176h2v1h-2zM543 177h2v1h-2zM545 178h2v1h-2zM547 179h2v1h-2zM549 180h2v1h-2zM551 181h2v1h-2zM553 182h1v1h-1zM554 183h2v1h-2zM556 184h1v1h-1zM557 185h1v1h-1zM558 186h2v1h-2zM560 187h3v1h-3zM563 188h5v1h-5zM592 188h2v1h-2zM568 189h4v1h-4zM584 189h8v1h-8zM572 190h4v1h-4zM580 190h4v1h-4zM576 191h4v1h-4z"/>
<g shape-rendering="crispEdges" fill="#999999">
<rect x="83" y="262.5" width="2" height="6.8"/>
<rect x="85" y="262.5" width="2" height="6.1"/>
<rect x="87" y="262.5" width="2" height="5.5"/>
<rect x="89" y="262.5" width="3" height="4.8"/>
<rect x="92" y="262.5" width="2" height="4.2"/>
<rect x="94" y="262.5" width="2" height="3.9"/>
<rect x="96" y="262.5" width="2" height="3.2"/>
<rect x="98" y="262.5" width="2" height="2.6"/>
<rect x="100" y="262.5" width="2" height="2.4"/>
<rect x="102" y="262.5" width="2" height="3.2"/>
<rect x="104" y="262.5" width="2" height="3.7"/>
<rect x="106" y="262.5" width="2" height="3.1"/>
<rect x="108" y="262.5" width="2" height="1.2"/>
<rect x="110" y="261.8" width="2" height="0.7"/>
<rect x="112" y="261.6" width="2" height="0.9"/>
<rect x="114" y="260.6" width="2" height="1.9"/>
<rect x="116" y="259.5" width="3" height="3"/>
<rect x="119" y="258.9" width="2" height="3.6"/>
<rect x="121" y="258.7" width="2" height="3.8"/>
<rect x="123" y="258.4" width="2" height="4.1"/>
<rect x="125" y="258.4" width="2" height="4.1"/>
<rect x="127" y="258.9" width="2" height="3.6"/>
<rect x="129" y="260.1" width="2" height="2.4"/>
<rect x="131" y="262.5" width="2" height="0.8"/>
<rect x="133" y="262.5" width="2" height="1.9"/>
<rect x="135" y="262.5" width="2" height="3.2"/>
<rect x="137" y="262.5" width="2" height="4.4"/>
<rect x="139" y="262.5" width="2" height="4.5"/>
<rect x="141" y="262.5" width="3" height="2.7"/>
<rect x="144" y="262.5" width="2" height="1.7"/>
<rect x="146" y="262.5" width="2" height="0.6"/>
<rect x="148" y="262.1" width="2" height="0.4"/>
<rect x="150" y="261.7" width="2" height="0.8"/>
<rect x="152" y="262.5" width="2" height="0.9"/>
<rect x="154" y="262.5" width="2" height="3.3"/>
<rect x="156" y="262.5" width="2" height="3.9"/>
<rect x="158" y="262.5" width="2" height="2.9"/>
<rect x="160" y="262.5" width="2" height="1.9"/>
<rect x="162" y="262.5" width="2" height="0.4"/>
<rect x="164" y="260.9" width="2" height="1.6"/>
<rect x="166" y="259.4" width="3" height="3.1"/>
<rect x="169" y="257.8" width="2" height="4.7"/>
<rect x="171" y="256.9" width="2" height="5.6"/>
<rect x="173" y="255.8" width="2" height="6.7"/>
<rect x="175" y="253.4" width="2" height="9.1"/>
<rect x="177" y="249.9" width="2" height="12.6"/>
<rect x="179" y="244.3" width="2" height="18.2"/>
<rect x="181" y="239.8" width="2" height="22.7"/>
<rect x="183" y="238" width="2" height="24.5"/>
<rect x="185" y="246.2" width="2" height="16.3"/>
<rect x="187" y="251.9" width="2" height="10.6"/>
<rect x="189" y="257.7" width="2" height="4.8"/>
<rect x="191" y="259.5" width="2" height="3"/>
<rect x="193" y="259.5" width="3" height="3"/>
<rect x="196" y="259.8" width="2" height="2.7"/>
<rect x="198" y="260.1" width="2" height="2.4"/>
<rect x="200" y="260.9" width="2" height="1.6"/>
<rect x="206" y="262.5" width="2" height="0.6"/>
<rect x="208" y="262.5" width="2" height="1.3"/>
<rect x="210" y="262.5" width="2" height="1.6"/>
<rect x="212" y="262.5" width="2" height="1.9"/>
<rect x="214" y="262.5" width="2" height="2.2"/>
<rect x="216" y="262.5" width="2" height="2.4"/>
<rect x="218" y="262.5" width="3" height="2.7"/>
<rect x="221" y="262.5" width="2" height="4"/>
<rect x="223" y="262.5" width="2" height="5"/>
<rect x="225" y="262.5" width="2" height="5.5"/>
<rect x="227" y="262.5" width="2" height="5.9"/>
<rect x="229" y="262.5" width="2" height="5.8"/>
<rect x="231" y="262.5" width="2" height="4.9"/>
<rect x="233" y="262.5" width="2" height="4.4"/>
<rect x="235" y="262.5" width="2" height="4"/>
<rect x="237" y="262.5" width="2" height="3.7"/>
<rect x="239" y="262.5" width="2" height="3.3"/>
<rect x="241" y="262.5" width="2" height="3"/>
<rect x="243" y="262.5" width="3" height="2.8"/>
<rect x="246" y="262.5" width="2" height="2.8"/>
<rect x="248" y="261.4" width="2" height="1.1"/>
<rect x="250" y="251.6" width="2" height="10.9"/>
<rect x="252" y="249.2" width="2" height="13.3"/>
<rect x="254" y="249.2" width="2" height="13.3"/>
<rect x="256" y="252.4" width="2" height="10.1"/>
<rect x="258" y="256.1" width="2" height="6.4"/>
<rect x="260" y="256.6" width="2" height="5.9"/>
<rect x="262" y="256.3" width="2" height="6.2"/>
<rect x="264" y="255.7" width="2" height="6.8"/>
<rect x="266" y="254.6" width="2" height="7.9"/>
<rect x="268" y="253.2" width="2" height="9.3"/>
<rect x="270" y="254.6" width="3" height="7.9"/>
<rect x="273" y="256.4" width="2" height="6.1"/>
<rect x="275" y="257.9" width="2" height="4.6"/>
<rect x="277" y="258.9" width="2" height="3.6"/>
<rect x="279" y="260" width="2" height="2.5"/>
<rect x="281" y="262.5" width="2" height="1.1"/>
<rect x="283" y="262.5" width="2" height="3.2"/>
<rect x="285" y="262.5" width="2" height="3.2"/>
<rect x="287" y="262.5" width="2" height="2.1"/>
<rect x="289" y="262.5" width="2" height="1.8"/>
<rect x="291" y="262.5" width="2" height="1.8"/>
<rect x="293" y="262.5" width="2" height="1.8"/>
<rect x="295" y="262.5" width="3" height="1.7"/>
<rect x="298" y="262.5" width="2" height="1"/>
<rect x="300" y="261.4" width="2" height="1.1"/>
<rect x="302" y="261.4" width="2" height="1.1"/>
<rect x="304" y="261.4" width="2" height="1.1"/>
<rect x="314" y="262.5" width="2" height="0.9"/>
<rect x="316" y="262.5" width="2" height="3.8"/>
<rect x="318" y="262.5" width="2" height="5.9"/>
<rect x="320" y="262.5" width="2" height="7.1"/>
<rect x="322" y="262.5" width="3" height="7.9"/>
<rect x="325" y="262.5" width="2" height="8"/>
<rect x="327" y="262.5" width="2" height="6.4"/>
<rect x="329" y="262.5" width="2" height="6.2"/>
<rect x="331" y="262.5" width="2" height="5.7"/>
<rect x="333" y="262.5" width="2" height="5"/>
<rect x="335" y="262.5" width="2" height="4.5"/>
<rect x="337" y="262.5" width="2" height="4.1"/>
<rect x="339" y="262.5" width="2" height="3.3"/>
<rect x="341" y="262.5" width="2" height="3.2"/>
<rect x="343" y="262.5" width="2" height="3.2"/>
<rect x="345" y="262.5" width="2" height="3.3"/>
<rect x="347" y="262.5" width="3" height="3.3"/>
<rect x="350" y="261.4" width="2" height="1.1"/>
<rect x="352" y="260.6" width="2" height="1.9"/>
<rect x="354" y="260.8" width="2" height="1.7"/>
<rect x="356" y="261.2" width="2" height="1.3"/>
<rect x="358" y="261.2" width="2" height="1.3"/>
<rect x="360" y="261.2" width="2" height="1.3"/>
<rect x="362" y="261.2" width="2" height="1.3"/>
<rect x="364" y="260.6" width="2" height="1.9"/>
<rect x="366" y="261.1" width="2" height="1.4"/>
<rect x="368" y="261.7" width="2" height="0.8"/>
<rect x="370" y="261.8" width="2" height="0.7"/>
<rect x="372" y="261.8" width="3" height="0.7"/>
<rect x="375" y="262.5" width="2" height="0.7"/>
<rect x="377" y="262.5" width="2" height="0.7"/>
<rect x="379" y="262.5" width="2" height="0.7"/>
<rect x="381" y="262.5" width="2" height="0.7"/>
<rect x="383" y="262.5" width="2" height="0.7"/>
<rect x="385" y="261.5" width="2" height="1"/>
<rect x="387" y="261.4" width="2" height="1.1"/>
<rect x="389" y="261.3" width="2" height="1.2"/>
<rect x="391" y="261.2" width="2" height="1.3"/>
<rect x="393" y="260.4" width="2" height="2.1"/>
<rect x="395" y="258.9" width="2" height="3.6"/>
<rect x="397" y="258.2" width="2" height="4.3"/>
<rect x="399" y="258.2" width="3" height="4.3"/>
<rect x="402" y="258.2" width="2" height="4.3"/>
<rect x="404" y="259.3" width="2" height="3.2"/>
<rect x="406" y="259.4" width="2" height="3.1"/>
<rect x="408" y="260.7" width="2" height="1.8"/>
<rect x="410" y="261.5" width="2" height="1"/>
<rect x="412" y="261.5" width="2" height="1"/>
<rect x="414" y="261.4" width="2" height="1.1"/>
<rect x="416" y="261.8" width="2" height="0.7"/>
<rect x="424" y="262.5" width="3" height="0.6"/>
<rect x="427" y="262.5" width="2" height="0.8"/>
<rect x="429" y="262.5" width="2" height="1"/>
<rect x="431" y="262.5" width="2" height="1.2"/>
<rect x="433" y="262.5" width="2" height="1.9"/>
<rect x="435" y="262.5" width="2" height="2.7"/>
<rect x="437" y="262.5" width="2" height="3.8"/>
<rect x="439" y="262.5" width="2" height="4"/>
<rect x="441" y="262.5" width="2" height="3.2"/>
<rect x="443" y="262.5" width="2" height="2"/>
<rect x="445" y="262.5" width="2" height="1.6"/>
<rect x="447" y="262.5" width="2" height="1.7"/>
<rect x="449" y="262.5" width="3" height="2.5"/>
<rect x="452" y="262.5" width="2" height="3.5"/>
<rect x="454" y="262.5" width="2" height="4.7"/>
<rect x="456" y="262.5" width="2" height="6.1"/>
<rect x="458" y="262.5" width="2" height="7.6"/>
<rect x="460" y="262.5" width="2" height="9.9"/>
<rect x="462" y="262.5" width="2" height="11"/>
<rect x="464" y="262.5" width="2" height="11"/>
<rect x="466" y="262.5" width="2" height="11"/>
<rect x="468" y="262.5" width="2" height="8.7"/>
<rect x="470" y="262.5" width="2" height="7.7"/>
<rect x="472" y="262.5" width="2" height="7.5"/>
<rect x="474" y="262.5" width="2" height="7.3"/>
<rect x="476" y="262.5" width="3" height="7.1"/>
<rect x="479" y="262.5" width="2" height="4.4"/>
<rect x="481" y="262.5" width="2" height="2.3"/>
<rect x="483" y="262.5" width="2" height="0.5"/>
<rect x="485" y="262.2" width="2" height="0.3"/>
<rect x="487" y="261" width="2" height="1.5"/>
<rect x="489" y="261" width="2" height="1.5"/>
<rect x="491" y="262.5" width="2" height="2.5"/>
<rect x="493" y="262.5" width="2" height="5.3"/>
<rect x="495" y="262.5" width="2" height="6.1"/>
<rect x="497" y="262.5" width="2" height="5.3"/>
<rect x="499" y="262.5" width="2" height="4.3"/>
<rect x="501" y="262.5" width="3" height="3.2"/>
<rect x="504" y="262.5" width="2" height="2"/>
<rect x="506" y="262.5" width="2" height="0.3"/>
<rect x="508" y="258.5" width="2" height="4"/>
<rect x="510" y="257.6" width="2" height="4.9"/>
<rect x="512" y="257.1" width="2" height="5.4"/>
<rect x="514" y="257.6" width="2" height="4.9"/>
<rect x="516" y="258.1" width="2" height="4.4"/>
<rect x="518" y="255.9" width="2" height="6.6"/>
<rect x="520" y="253.7" width="2" height="8.8"/>
<rect x="522" y="250.4" width="2" height="12.1"/>
<rect x="524" y="248.9" width="2" height="13.6"/>
<rect x="526" y="248.1" width="2" height="14.4"/>
<rect x="528" y="248.1" width="3" height="14.4"/>
<rect x="531" y="249.2" width="2" height="13.3"/>
<rect x="533" y="250.7" width="2" height="11.8"/>
<rect x="535" y="251.7" width="2" height="10.8"/>
<rect x="537" y="252.6" width="2" height="9.9"/>
<rect x="539" y="253.4" width="2" height="9.1"/>
<rect x="541" y="254.3" width="2" height="8.2"/>
<rect x="543" y="255.2" width="2" height="7.3"/>
<rect x="545" y="256" width="2" height="6.5"/>
<rect x="547" y="257.1" width="2" height="5.4"/>
<rect x="549" y="258.1" width="2" height="4.4"/>
<rect x="551" y="259.1" width="2" height="3.4"/>
<rect x="553" y="260.2" width="3" height="2.3"/>
<rect x="556" y="260.8" width="2" height="1.7"/>
<rect x="558" y="261.3" width="2" height="1.2"/>
<rect x="560" y="262.2" width="2" height="0.3"/>
<rect x="562" y="262.5" width="2" height="2.1"/>
<rect x="564" y="262.5" width="2" height="2.6"/>
<rect x="566" y="262.5" width="2" height="1.7"/>
<rect x="568" y="262.5" width="2" height="1.2"/>
<rect x="570" y="262.5" width="2" height="1"/>
<rect x="572" y="262.5" width="2" height="2"/>
<rect x="574" y="262.5" width="2" height="1.9"/>
<rect x="576" y="262.5" width="2" height="0.6"/>
<rect x="578" y="258.5" width="3" height="4"/>
<rect x="581" y="253" width="2" height="9.5"/>
<rect x="583" y="250.9" width="2" height="11.6"/>
<rect x="585" y="246.2" width="2" height="16.3"/>
<rect x="587" y="246.2" width="2" height="16.3"/>
<rect x="589" y="250.4" width="2" height="12.1"/>
<rect x="591" y="250.9" width="2" height="11.6"/>
</g>
<path fill="#99cc00" shape-rendering="crispEdges" d="M276 248h6v1h-6zM273 249h3v1h-3zM282 249h2v1h-2zM272 250h1v1h-1zM284 250h8v1h-8zM593 250h1v1h-1zM271 251h1v1h-1zM292 251h5v1h-5zM306 251h6v1h-6zM591 251h2v1h-2zM270 252h1v1h-1zM297 252h9v1h-9zM312 252h4v1h-4zM590 252h1v1h-1zM269 253h1v1h-1zM316 253h2v1h-2zM589 253h1v1h-1zM268 254h1v1h-1zM318 254h2v1h-2zM589 254h1v1h-1zM267 255h1v1h-1zM320 255h1v1h-1zM588 255h1v1h-1zM266 256h1v1h-1zM321 256h1v1h-1zM587 256h1v1h-1zM203 257h6v1h-6zM264 257h2v1h-2zM322 257h1v1h-1zM586 257h1v1h-1zM201 258h2v1h-2zM209 258h5v1h-5zM263 258h1v1h-1zM323 258h1v1h-1zM586 258h1v1h-1zM194 259h7v1h-7zM214 259h4v1h-4zM261 259h2v1h-2zM324 259h1v1h-1zM585 259h1v1h-1zM191 260h3v1h-3zM218 260h3v1h-3zM259 260h2v1h-2zM325 260h1v1h-1zM585 260h1v1h-1zM189 261h2v1h-2zM221 261h1v1h-1zM258 261h1v1h-1zM326 261h1v1h-1zM584 261h1v1h-1zM188 262h1v1h-1zM222 262h2v1h-2zM257 262h1v1h-1zM327 262h1v1h-1zM584 262h1v1h-1zM187 263h1v1h-1zM224 263h2v1h-2zM256 263h1v1h-1zM328 263h2v1h-2zM583 263h1v1h-1zM187 264h1v1h-1zM226 264h2v1h-2zM254 264h2v1h-2zM330 264h2v1h-2zM553 264h9v1h-9zM583 264h1v1h-1zM186 265h1v1h-1zM228 265h2v1h-2zM253 265h1v1h-1zM332 265h1v1h-1zM406 265h17v1h-17zM549 265h4v1h-4zM562 265h2v1h-2zM582 265h1v1h-1zM185 266h1v1h-1zM230 266h2v1h-2zM252 266h1v1h-1zM333 266h2v1h-2zM402 266h4v1h-4zM423 266h6v1h-6zM547 266h2v1h-2zM564 266h4v1h-4zM581 266h2v1h-2zM185 267h1v1h-1zM232 267h2v1h-2zM252 267h1v1h-1zM335 267h2v1h-2zM399 267h3v1h-3zM429 267h4v1h-4zM545 267h2v1h-2zM568 267h4v1h-4zM579 267h2v1h-2zM184 268h1v1h-1zM234 268h1v1h-1zM251 268h1v1h-1zM337 268h2v1h-2zM396 268h3v1h-3zM433 268h2v1h-2zM543 268h2v1h-2zM572 268h7v1h-7zM184 269h1v1h-1zM235 269h2v1h-2zM251 269h1v1h-1zM339 269h4v1h-4zM366 269h6v1h-6zM393 269h3v1h-3zM435 269h3v1h-3zM542 269h1v1h-1zM184 270h1v1h-1zM237 270h3v1h-3zM250 270h1v1h-1zM343 270h4v1h-4zM354 270h12v1h-12zM372 270h5v1h-5zM389 270h4v1h-4zM438 270h4v1h-4zM541 270h1v1h-1zM183 271h1v1h-1zM240 271h6v1h-6zM249 271h1v1h-1zM347 271h7v1h-7zM377 271h12v1h-12zM442 271h4v1h-4zM540 271h1v1h-1zM183 272h1v1h-1zM246 272h2v1h-2zM249 272h1v1h-1zM446 272h5v1h-5zM538 272h2v1h-2zM182 273h1v1h-1zM248 273h1v1h-1zM451 273h3v1h-3zM537 273h1v1h-1zM182 274h1v1h-1zM454 274h1v1h-1zM536 274h1v1h-1zM182 275h1v1h-1zM455 275h2v1h-2zM535 275h1v1h-1zM181 276h1v1h-1zM457 276h1v1h-1zM534 276h1v1h-1zM181 277h1v1h-1zM458 277h1v1h-1zM534 277h1v1h-1zM84 278h1v1h-1zM180 278h1v1h-1zM459 278h1v1h-1zM533 278h1v1h-1zM85 279h1v1h-1zM180 279h1v1h-1zM459 279h1v1h-1zM532 279h1v1h-1zM86 280h1v1h-1zM179 280h1v1h-1zM460 280h1v1h-1zM531 280h1v1h-1zM87 281h1v1h-1zM179 281h1v1h-1zM461 281h1v1h-1zM531 281h1v1h-1zM88 282h2v1h-2zM178 282h1v1h-1zM462 282h1v1h-1zM530 282h1v1h-1zM90 283h2v1h-2zM177 283h1v1h-1zM463 283h1v1h-1zM529 283h1v1h-1zM92 284h3v1h-3zM176 284h1v1h-1zM464 284h1v1h-1zM529 284h1v1h-1zM95 285h4v1h-4zM125 285h8v1h-8zM176 285h1v1h-1zM465 285h1v1h-1zM528 285h1v1h-1zM99 286h3v1h-3zM122 286h3v1h-3zM133 286h3v1h-3zM175 286h1v1h-1zM466 286h1v1h-1zM527 286h1v1h-1zM102 287h2v1h-2zM120 287h2v1h-2zM136 287h2v1h-2zM174 287h1v1h-1zM467 287h1v1h-1zM527 287h1v1h-1zM104 288h2v1h-2zM117 288h3v1h-3zM138 288h3v1h-3zM172 288h2v1h-2zM468 288h1v1h-1zM526 288h1v1h-1zM106 289h11v1h-11zM141 289h10v1h-10zM170 289h2v1h-2zM468 289h1v1h-1zM526 289h1v1h-1zM151 290h4v1h-4zM169 290h1v1h-1zM469 290h1v1h-1zM525 290h1v1h-1zM155 291h5v1h-5zM168 291h1v1h-1zM470 291h1v1h-1zM525 291h1v1h-1zM160 292h4v1h-4zM166 292h2v1h-2zM471 292h1v1h-1zM524 292h1v1h-1zM164 293h2v1h-2zM472 293h2v1h-2zM524 293h1v1h-1zM474 294h1v1h-1zM523 294h1v1h-1zM475 295h1v1h-1zM523 295h1v1h-1zM476 296h1v1h-1zM522 296h1v1h-1zM477 297h1v1h-1zM488 297h5v1h-5zM520 297h2v1h-2zM478 298h10v1h-10zM493 298h1v1h-1zM518 298h2v1h-2zM494 299h1v1h-1zM516 299h2v1h-2zM495 300h1v1h-1zM514 300h2v1h-2zM496 301h1v1h-1zM513 301h1v1h-1zM497 302h1v1h-1zM511 302h2v1h-2zM498 303h2v1h-2zM510 303h1v1h-1zM500 304h3v1h-3zM507 304h3v1h-3zM503 305h4v1h-4z"/>
<path fill="#9900ff" shape-rendering="crispEdges" d="M587 240h1v1h-1zM591 240h3v1h-3zM587 241h4v1h-4zM586 242h1v1h-1zM586 243h1v1h-1zM585 244h1v1h-1zM184 245h1v1h-1zM269 245h9v1h-9zM585 245h1v1h-1zM184 246h2v1h-2zM268 246h1v1h-1zM278 246h1v1h-1zM584 246h1v1h-1zM183 247h1v1h-1zM185 247h1v1h-1zM268 247h1v1h-1zM279 247h1v1h-1zM584 247h1v1h-1zM183 248h1v1h-1zM186 248h1v1h-1zM267 248h1v1h-1zM280 248h1v1h-1zM584 248h1v1h-1zM183 249h1v1h-1zM187 249h1v1h-1zM266 249h1v1h-1zM281 249h1v1h-1zM584 249h1v1h-1zM183 250h1v1h-1zM187 250h1v1h-1zM266 250h1v1h-1zM282 250h1v1h-1zM584 250h1v1h-1zM183 251h1v1h-1zM188 251h1v1h-1zM265 251h1v1h-1zM283 251h1v1h-1zM300 251h6v1h-6zM583 251h1v1h-1zM182 252h1v1h-1zM188 252h1v1h-1zM265 252h1v1h-1zM283 252h1v1h-1zM286 252h3v1h-3zM299 252h1v1h-1zM306 252h3v1h-3zM583 252h1v1h-1zM182 253h1v1h-1zM189 253h1v1h-1zM255 253h1v1h-1zM263 253h2v1h-2zM284 253h2v1h-2zM289 253h3v1h-3zM298 253h1v1h-1zM309 253h6v1h-6zM583 253h1v1h-1zM182 254h1v1h-1zM190 254h1v1h-1zM254 254h1v1h-1zM256 254h1v1h-1zM261 254h2v1h-2zM292 254h6v1h-6zM315 254h2v1h-2zM583 254h1v1h-1zM182 255h1v1h-1zM190 255h1v1h-1zM253 255h1v1h-1zM257 255h4v1h-4zM317 255h1v1h-1zM583 255h1v1h-1zM182 256h1v1h-1zM191 256h1v1h-1zM197 256h3v1h-3zM203 256h2v1h-2zM252 256h1v1h-1zM318 256h1v1h-1zM582 256h1v1h-1zM182 257h1v1h-1zM191 257h6v1h-6zM200 257h3v1h-3zM205 257h2v1h-2zM252 257h1v1h-1zM318 257h1v1h-1zM582 257h1v1h-1zM181 258h1v1h-1zM207 258h2v1h-2zM252 258h1v1h-1zM319 258h1v1h-1zM582 258h1v1h-1zM181 259h1v1h-1zM209 259h2v1h-2zM252 259h1v1h-1zM319 259h1v1h-1zM582 259h1v1h-1zM181 260h1v1h-1zM211 260h4v1h-4zM251 260h1v1h-1zM320 260h1v1h-1zM581 260h1v1h-1zM181 261h1v1h-1zM215 261h4v1h-4zM251 261h1v1h-1zM321 261h1v1h-1zM581 261h1v1h-1zM180 262h1v1h-1zM219 262h2v1h-2zM251 262h1v1h-1zM321 262h1v1h-1zM541 262h9v1h-9zM581 262h1v1h-1zM180 263h1v1h-1zM221 263h1v1h-1zM251 263h1v1h-1zM322 263h1v1h-1zM400 263h8v1h-8zM539 263h2v1h-2zM550 263h8v1h-8zM580 263h1v1h-1zM180 264h1v1h-1zM221 264h1v1h-1zM251 264h1v1h-1zM323 264h1v1h-1zM398 264h2v1h-2zM408 264h2v1h-2zM415 264h3v1h-3zM537 264h2v1h-2zM558 264h2v1h-2zM580 264h1v1h-1zM180 265h1v1h-1zM222 265h1v1h-1zM251 265h1v1h-1zM323 265h1v1h-1zM397 265h1v1h-1zM410 265h2v1h-2zM413 265h2v1h-2zM418 265h4v1h-4zM535 265h2v1h-2zM560 265h1v1h-1zM579 265h1v1h-1zM179 266h1v1h-1zM223 266h1v1h-1zM250 266h1v1h-1zM324 266h1v1h-1zM396 266h1v1h-1zM412 266h1v1h-1zM422 266h3v1h-3zM534 266h1v1h-1zM561 266h1v1h-1zM579 266h1v1h-1zM179 267h1v1h-1zM224 267h2v1h-2zM250 267h1v1h-1zM324 267h1v1h-1zM394 267h2v1h-2zM425 267h2v1h-2zM532 267h2v1h-2zM562 267h1v1h-1zM579 267h1v1h-1zM179 268h1v1h-1zM226 268h2v1h-2zM250 268h1v1h-1zM325 268h2v1h-2zM363 268h5v1h-5zM392 268h2v1h-2zM427 268h2v1h-2zM531 268h1v1h-1zM563 268h8v1h-8zM578 268h1v1h-1zM179 269h1v1h-1zM228 269h2v1h-2zM250 269h1v1h-1zM327 269h5v1h-5zM353 269h2v1h-2zM361 269h2v1h-2zM368 269h4v1h-4zM389 269h3v1h-3zM429 269h2v1h-2zM530 269h1v1h-1zM571 269h2v1h-2zM578 269h1v1h-1zM178 270h1v1h-1zM230 270h1v1h-1zM249 270h1v1h-1zM332 270h4v1h-4zM352 270h1v1h-1zM355 270h6v1h-6zM372 270h3v1h-3zM387 270h2v1h-2zM431 270h5v1h-5zM529 270h1v1h-1zM573 270h5v1h-5zM178 271h1v1h-1zM231 271h2v1h-2zM249 271h1v1h-1zM336 271h3v1h-3zM351 271h1v1h-1zM375 271h2v1h-2zM385 271h2v1h-2zM436 271h1v1h-1zM529 271h1v1h-1zM178 272h1v1h-1zM233 272h2v1h-2zM249 272h1v1h-1zM339 272h4v1h-4zM350 272h1v1h-1zM377 272h8v1h-8zM437 272h1v1h-1zM445 272h2v1h-2zM528 272h1v1h-1zM177 273h1v1h-1zM235 273h4v1h-4zM249 273h1v1h-1zM343 273h3v1h-3zM349 273h1v1h-1zM438 273h7v1h-7zM447 273h1v1h-1zM527 273h1v1h-1zM177 274h1v1h-1zM239 274h6v1h-6zM248 274h1v1h-1zM346 274h1v1h-1zM348 274h1v1h-1zM448 274h1v1h-1zM526 274h1v1h-1zM177 275h1v1h-1zM245 275h2v1h-2zM248 275h1v1h-1zM347 275h1v1h-1zM449 275h4v1h-4zM526 275h1v1h-1zM177 276h1v1h-1zM247 276h2v1h-2zM453 276h1v1h-1zM525 276h1v1h-1zM176 277h1v1h-1zM453 277h1v1h-1zM525 277h1v1h-1zM176 278h1v1h-1zM454 278h1v1h-1zM524 278h1v1h-1zM175 279h1v1h-1zM455 279h1v1h-1zM524 279h1v1h-1zM174 280h1v1h-1zM456 280h1v1h-1zM523 280h1v1h-1zM174 281h1v1h-1zM457 281h1v1h-1zM523 281h1v1h-1zM124 282h6v1h-6zM173 282h1v1h-1zM458 282h1v1h-1zM523 282h1v1h-1zM122 283h2v1h-2zM130 283h1v1h-1zM172 283h1v1h-1zM458 283h1v1h-1zM523 283h1v1h-1zM121 284h1v1h-1zM130 284h1v1h-1zM171 284h1v1h-1zM459 284h1v1h-1zM522 284h1v1h-1zM84 285h2v1h-2zM120 285h1v1h-1zM131 285h1v1h-1zM170 285h1v1h-1zM459 285h1v1h-1zM522 285h1v1h-1zM86 286h5v1h-5zM119 286h1v1h-1zM132 286h2v1h-2zM169 286h1v1h-1zM459 286h1v1h-1zM522 286h1v1h-1zM91 287h2v1h-2zM118 287h1v1h-1zM134 287h1v1h-1zM169 287h1v1h-1zM460 287h1v1h-1zM521 287h1v1h-1zM93 288h1v1h-1zM96 288h6v1h-6zM116 288h2v1h-2zM135 288h1v1h-1zM147 288h3v1h-3zM168 288h1v1h-1zM460 288h1v1h-1zM521 288h1v1h-1zM94 289h2v1h-2zM102 289h1v1h-1zM113 289h3v1h-3zM136 289h1v1h-1zM145 289h2v1h-2zM150 289h2v1h-2zM167 289h1v1h-1zM461 289h1v1h-1zM520 289h1v1h-1zM103 290h1v1h-1zM111 290h2v1h-2zM137 290h1v1h-1zM143 290h2v1h-2zM152 290h1v1h-1zM166 290h1v1h-1zM461 290h1v1h-1zM520 290h1v1h-1zM104 291h1v1h-1zM109 291h2v1h-2zM138 291h1v1h-1zM142 291h1v1h-1zM153 291h1v1h-1zM166 291h1v1h-1zM462 291h1v1h-1zM520 291h1v1h-1zM105 292h4v1h-4zM138 292h1v1h-1zM140 292h2v1h-2zM153 292h1v1h-1zM165 292h1v1h-1zM462 292h1v1h-1zM519 292h1v1h-1zM139 293h1v1h-1zM154 293h1v1h-1zM164 293h1v1h-1zM463 293h1v1h-1zM519 293h1v1h-1zM155 294h1v1h-1zM158 294h3v1h-3zM164 294h1v1h-1zM464 294h1v1h-1zM518 294h1v1h-1zM156 295h2v1h-2zM161 295h3v1h-3zM464 295h1v1h-1zM518 295h1v1h-1zM465 296h1v1h-1zM515 296h3v1h-3zM466 297h1v1h-1zM485 297h6v1h-6zM513 297h2v1h-2zM467 298h1v1h-1zM483 298h2v1h-2zM490 298h1v1h-1zM512 298h1v1h-1zM468 299h2v1h-2zM481 299h2v1h-2zM491 299h1v1h-1zM511 299h1v1h-1zM470 300h1v1h-1zM480 300h1v1h-1zM491 300h1v1h-1zM510 300h1v1h-1zM471 301h2v1h-2zM479 301h1v1h-1zM492 301h1v1h-1zM509 301h1v1h-1zM473 302h3v1h-3zM478 302h1v1h-1zM492 302h1v1h-1zM508 302h1v1h-1zM476 303h2v1h-2zM493 303h1v1h-1zM508 303h1v1h-1zM494 304h1v1h-1zM507 304h1v1h-1zM494 305h1v1h-1zM506 305h1v1h-1zM495 306h1v1h-1zM504 306h2v1h-2zM496 307h2v1h-2zM501 307h3v1h-3zM498 308h3v1h-3z"/>
<text class="ax" x="637.2" y="47.2">1,100</text>
<text class="ax" x="637.2" y="80.2">1,000</text>
<text class="ax" x="637.2" y="113.2">900</text>
<text class="ax" x="637.2" y="146.2">800</text>
<text class="ax" x="637.2" y="179.2">700</text>
<text class="ax" x="637.2" y="212.2">600</text>
<text class="ax" x="637.2" y="248.2">20</text>
<text class="ax" x="637.2" y="266.2">0</text>
<text class="ax" x="637.2" y="284.2">−20</text>
<text class="ax" x="637.2" y="302.2">−40</text>
<text class="ax" style="font-size:11px" x="171.2" y="324" text-anchor="middle">2021/1</text>
<text class="ax" style="font-size:11px" x="250.2" y="324" text-anchor="middle">2021/3</text>
<text class="ax" style="font-size:11px" x="343.2" y="324" text-anchor="middle">2021/5</text>
<text class="ax" style="font-size:11px" x="428.2" y="324" text-anchor="middle">2021/7</text>
<text class="ax" style="font-size:11px" x="515.2" y="324" text-anchor="middle">2021/9</text>
<rect x="48.5" y="327.5" width="632" height="51" fill="#fff" stroke="#000" stroke-width="1" shape-rendering="crispEdges"/>
<text class="jp" y="339" x="55.8 65.8 74.3">上段：</text>
<line x1="88" y1="335.5" x2="119" y2="335.5" stroke="#99cc00" stroke-width="1"/>
<text class="jp" y="339" x="122.8 132.8 142.8 152.8 162.8 172.8 180.6 188.9 199.2">単純移動平均（<tspan class="jd">５</tspan>）</text>
<line x1="216" y1="335.5" x2="247" y2="335.5" stroke="#9900ff" stroke-width="1"/>
<text class="jp" y="339" x="250.8 260.9 270.9 280.9 290.9 300.9 308.6 317.2 325.8 335.6">単純移動平均（<tspan class="jd">２５</tspan>）</text>
<line x1="360" y1="335.5" x2="391" y2="335.5" stroke="#ff3300" stroke-width="1"/>
<text class="jp" y="339" x="394.9 404.9 414.9 424.9 434.9 444.9 452.6 461.2 469.8 479.6">単純移動平均（<tspan class="jd">５０</tspan>）</text>
<text class="jp" y="372" x="55.8 65.8 74.3">下段：</text>
<line x1="88" y1="368.5" x2="119" y2="368.5" stroke="#9900ff" stroke-width="1"/>
<text class="lg" x="123" y="371.3">MACD(12,26)</text>
<line x1="288" y1="368.5" x2="319" y2="368.5" stroke="#99cc00" stroke-width="1"/>
<text class="jp" y="372" x="322.6 330.6 341.5 351">シグナル<tspan class="lg" x="362.3" y="371.3">(9)</tspan></text>
<line x1="400" y1="368.5" x2="431" y2="368.5" stroke="#999999" stroke-width="3"/>
<text class="lg" x="435" y="371.3">OSCI</text>
<text class="cp" x="545.5" y="394">(c)Quants Research Inc.</text>
</svg>
</body></html>
